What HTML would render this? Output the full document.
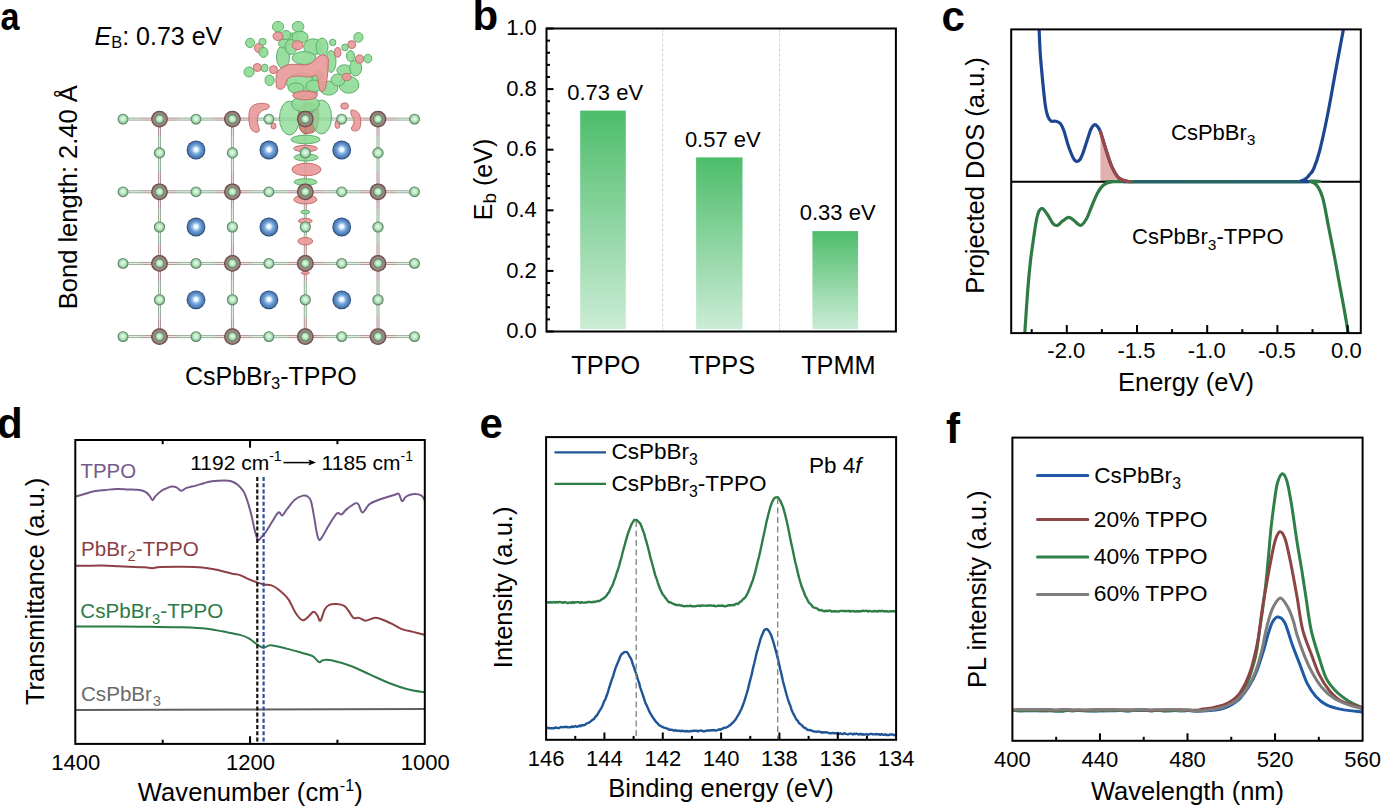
<!DOCTYPE html>
<html><head><meta charset="utf-8"><title>Figure</title>
<style>
html,body{margin:0;padding:0;background:#fff;}
body{width:1381px;height:806px;overflow:hidden;}
svg{display:block;font-family:"Liberation Sans", sans-serif;}
</style></head><body>
<svg width="1381" height="806" viewBox="0 0 1381 806">
<rect width="1381" height="806" fill="#fff"/>
<text transform="translate(0.6,30.4) scale(0.9,1)" font-size="38" font-weight="bold">a</text>
<text x="472.5" y="30" font-size="42" text-anchor="start" font-weight="bold" fill="#000"  >b</text>
<text x="941.5" y="31.3" font-size="42" text-anchor="start" font-weight="bold" fill="#000"  >c</text>
<text x="-3" y="437.8" font-size="42" text-anchor="start" font-weight="bold" fill="#000"  >d</text>
<text x="479.5" y="438.3" font-size="42" text-anchor="start" font-weight="bold" fill="#000"  >e</text>
<text x="946" y="443.4" font-size="42" text-anchor="start" font-weight="bold" fill="#000"  >f</text>
<line x1="662.7" y1="28.5" x2="662.7" y2="331.5" stroke="#cfcfcf" stroke-width="1" stroke-dasharray="3,2"/>
<line x1="779.6" y1="28.5" x2="779.6" y2="331.5" stroke="#cfcfcf" stroke-width="1" stroke-dasharray="3,2"/>
<defs><linearGradient id="gb" x1="0" y1="0" x2="0" y2="1"><stop offset="0" stop-color="#4dbd6b"/><stop offset="1" stop-color="#cbecd5"/></linearGradient></defs>
<rect x="580.2" y="110.6" width="45.6" height="218.6" fill="url(#gb)"/>
<rect x="696.1" y="157.4" width="46.4" height="171.8" fill="url(#gb)"/>
<rect x="812.4" y="231.1" width="45.7" height="98.1" fill="url(#gb)"/>
<rect x="546.5" y="28.5" width="349.4" height="303" fill="none" stroke="#000" stroke-width="2"/>
<line x1="546.5" y1="331.5" x2="553.5" y2="331.5" stroke="#000" stroke-width="2" />
<line x1="546.5" y1="319.38" x2="550" y2="319.38" stroke="#000" stroke-width="2" />
<line x1="546.5" y1="307.26" x2="550" y2="307.26" stroke="#000" stroke-width="2" />
<line x1="546.5" y1="295.14" x2="550" y2="295.14" stroke="#000" stroke-width="2" />
<line x1="546.5" y1="283.02" x2="550" y2="283.02" stroke="#000" stroke-width="2" />
<line x1="546.5" y1="270.9" x2="553.5" y2="270.9" stroke="#000" stroke-width="2" />
<line x1="546.5" y1="258.78" x2="550" y2="258.78" stroke="#000" stroke-width="2" />
<line x1="546.5" y1="246.66" x2="550" y2="246.66" stroke="#000" stroke-width="2" />
<line x1="546.5" y1="234.54" x2="550" y2="234.54" stroke="#000" stroke-width="2" />
<line x1="546.5" y1="222.42" x2="550" y2="222.42" stroke="#000" stroke-width="2" />
<line x1="546.5" y1="210.3" x2="553.5" y2="210.3" stroke="#000" stroke-width="2" />
<line x1="546.5" y1="198.18" x2="550" y2="198.18" stroke="#000" stroke-width="2" />
<line x1="546.5" y1="186.06" x2="550" y2="186.06" stroke="#000" stroke-width="2" />
<line x1="546.5" y1="173.94" x2="550" y2="173.94" stroke="#000" stroke-width="2" />
<line x1="546.5" y1="161.82" x2="550" y2="161.82" stroke="#000" stroke-width="2" />
<line x1="546.5" y1="149.7" x2="553.5" y2="149.7" stroke="#000" stroke-width="2" />
<line x1="546.5" y1="137.58" x2="550" y2="137.58" stroke="#000" stroke-width="2" />
<line x1="546.5" y1="125.46" x2="550" y2="125.46" stroke="#000" stroke-width="2" />
<line x1="546.5" y1="113.34" x2="550" y2="113.34" stroke="#000" stroke-width="2" />
<line x1="546.5" y1="101.22" x2="550" y2="101.22" stroke="#000" stroke-width="2" />
<line x1="546.5" y1="89.1" x2="553.5" y2="89.1" stroke="#000" stroke-width="2" />
<line x1="546.5" y1="76.98" x2="550" y2="76.98" stroke="#000" stroke-width="2" />
<line x1="546.5" y1="64.86" x2="550" y2="64.86" stroke="#000" stroke-width="2" />
<line x1="546.5" y1="52.74" x2="550" y2="52.74" stroke="#000" stroke-width="2" />
<line x1="546.5" y1="40.62" x2="550" y2="40.62" stroke="#000" stroke-width="2" />
<line x1="546.5" y1="28.5" x2="553.5" y2="28.5" stroke="#000" stroke-width="2" />
<text x="536.8" y="338.1" font-size="22" text-anchor="end" font-weight="normal" fill="#000"  >0.0</text>
<text x="536.8" y="277.5" font-size="22" text-anchor="end" font-weight="normal" fill="#000"  >0.2</text>
<text x="536.8" y="216.9" font-size="22" text-anchor="end" font-weight="normal" fill="#000"  >0.4</text>
<text x="536.8" y="156.3" font-size="22" text-anchor="end" font-weight="normal" fill="#000"  >0.6</text>
<text x="536.8" y="95.7" font-size="22" text-anchor="end" font-weight="normal" fill="#000"  >0.8</text>
<text x="536.8" y="35.1" font-size="22" text-anchor="end" font-weight="normal" fill="#000"  >1.0</text>
<text x="605.2" y="99.8" font-size="22" text-anchor="middle" font-weight="normal" fill="#000"  >0.73 eV</text>
<text x="722.8" y="146.5" font-size="22" text-anchor="middle" font-weight="normal" fill="#000"  >0.57 eV</text>
<text x="837.7" y="220.4" font-size="22" text-anchor="middle" font-weight="normal" fill="#000"  >0.33 eV</text>
<text x="605.8" y="373.7" font-size="25.3" text-anchor="middle" font-weight="normal" fill="#000"  >TPPO</text>
<text x="722.1" y="373.7" font-size="25.3" text-anchor="middle" font-weight="normal" fill="#000"  >TPPS</text>
<text x="838.4" y="373.7" font-size="25.3" text-anchor="middle" font-weight="normal" fill="#000"  >TPMM</text>
<text transform="translate(491.5,179.5) rotate(-90)" font-size="25" text-anchor="middle">E<tspan dy="4.5" font-size="19">b</tspan><tspan dy="-4.5"> (eV)</tspan></text>
<clipPath id="cc"><rect x="1011.2" y="29.4" width="349.6" height="303.7"/></clipPath>
<g clip-path="url(#cc)">
<path d="M1100.4,131.6C1101.22,134.25 1103.48,141.87 1105.3,147.5C1107.12,153.13 1109.15,160.43 1111.3,165.4C1113.45,170.37 1115.55,174.65 1118.2,177.3C1120.85,179.95 1124.9,180.57 1127.2,181.3C1129.5,182.03 1131.2,181.63 1132,181.7 L1132,181.7 L1100.4,181.7 Z" fill="#e3b0b0" stroke="none"/>
<line x1="1011.2" y1="181.7" x2="1360.8" y2="181.7" stroke="#000" stroke-width="2" />
<path d="M1024.6,336C1024.65,335.27 1024.38,339.17 1024.9,331.6C1025.42,324.03 1026.77,302.4 1027.7,290.6C1028.63,278.8 1029.57,269.18 1030.5,260.8C1031.43,252.42 1032.37,246.82 1033.3,240.3C1034.23,233.78 1035.17,226.52 1036.1,221.7C1037.03,216.88 1037.87,213.58 1038.9,211.4C1039.93,209.22 1040.9,208.13 1042.3,208.6C1043.7,209.07 1045.53,211.72 1047.3,214.2C1049.07,216.68 1051.25,221.63 1052.9,223.5C1054.55,225.37 1055.58,225.82 1057.2,225.4C1058.82,224.98 1060.7,222.33 1062.6,221C1064.5,219.67 1066.78,217.57 1068.6,217.4C1070.42,217.23 1071.52,218.67 1073.5,220C1075.48,221.33 1078.35,225.57 1080.5,225.4C1082.65,225.23 1084.58,222.07 1086.4,219C1088.22,215.93 1089.57,211.3 1091.4,207C1093.23,202.7 1095.42,196.83 1097.4,193.2C1099.38,189.57 1100.98,187.08 1103.3,185.2C1105.62,183.32 1107.68,182.48 1111.3,181.9C1114.92,181.32 1092.72,181.73 1125,181.7C1157.28,181.67 1274.17,181.75 1305,181.7C1335.83,181.65 1307.98,180.73 1310,181.4C1312.02,182.07 1314.95,182.83 1317.1,185.7C1319.25,188.57 1320.98,191.72 1322.9,198.6C1324.82,205.48 1326.7,217.48 1328.6,227C1330.5,236.52 1332.4,245.7 1334.3,255.7C1336.2,265.7 1338.33,277.95 1340,287C1341.67,296.05 1342.97,302.5 1344.3,310C1345.63,317.5 1347.35,327.67 1348,332C1348.65,336.33 1348.17,335.33 1348.2,336" stroke="#2f7a45" stroke-width="3.2" fill="none" stroke-linejoin="round" stroke-linecap="round" />
<path d="M1038.9,27C1038.93,27.42 1038.87,24.98 1039.1,29.5C1039.33,34.02 1039.7,45.45 1040.3,54.1C1040.9,62.75 1041.88,72.98 1042.7,81.4C1043.52,89.82 1044.4,98.92 1045.2,104.6C1046,110.28 1046.55,112.77 1047.5,115.5C1048.45,118.23 1049.57,120.05 1050.9,121C1052.23,121.95 1053.9,120.75 1055.5,121.2C1057.1,121.65 1059.08,122.07 1060.5,123.7C1061.92,125.33 1062.82,127.7 1064,131C1065.18,134.3 1066.43,139.83 1067.6,143.5C1068.77,147.17 1069.88,150.28 1071,153C1072.12,155.72 1073.28,158.4 1074.3,159.8C1075.32,161.2 1076.15,161.45 1077.1,161.4C1078.05,161.35 1079.02,160.9 1080,159.5C1080.98,158.1 1081.77,156.32 1083,153C1084.23,149.68 1086.07,143.6 1087.4,139.6C1088.73,135.6 1089.82,131.48 1091,129C1092.18,126.52 1093.42,125.12 1094.5,124.7C1095.58,124.28 1096.52,125.35 1097.5,126.5C1098.48,127.65 1099.1,128.1 1100.4,131.6C1101.7,135.1 1103.48,141.87 1105.3,147.5C1107.12,153.13 1109.15,160.43 1111.3,165.4C1113.45,170.37 1115.55,174.65 1118.2,177.3C1120.85,179.95 1123.57,180.57 1127.2,181.3C1130.83,182.03 1112.03,181.63 1140,181.7C1167.97,181.77 1268.33,181.77 1295,181.7C1321.67,181.63 1298.22,181.77 1300,181.3C1301.78,180.83 1304.1,180.03 1305.7,178.9C1307.3,177.77 1308.28,176.15 1309.6,174.5C1310.92,172.85 1311.93,172.92 1313.6,169C1315.27,165.08 1317.28,159.95 1319.6,151C1321.92,142.05 1324.85,128.53 1327.5,115.3C1330.15,102.07 1332.85,85.9 1335.5,71.6C1338.15,57.3 1342,36.93 1343.4,29.5C1344.8,22.07 1343.82,27.42 1343.9,27" stroke="#1d4690" stroke-width="3.2" fill="none" stroke-linejoin="round" stroke-linecap="round" />
<path d="M1100.4,131.6C1101.22,134.25 1103.48,141.87 1105.3,147.5C1107.12,153.13 1109.15,160.43 1111.3,165.4C1113.45,170.37 1115.55,174.65 1118.2,177.3C1120.85,179.95 1124.9,180.57 1127.2,181.3C1129.5,182.03 1131.2,181.63 1132,181.7" stroke="#9c4848" stroke-width="3.2" fill="none" stroke-linejoin="round" stroke-linecap="round" />
<line x1="1130" y1="181.7" x2="1300" y2="181.7" stroke="#2f7a45" stroke-width="3.2" stroke-opacity="0.55"/>
</g>
<rect x="1011.2" y="29.4" width="349.6" height="303.7" fill="none" stroke="#000" stroke-width="2"/>
<line x1="1031.7" y1="333.1" x2="1031.7" y2="329.1" stroke="#000" stroke-width="2" />
<line x1="1066.8" y1="333.1" x2="1066.8" y2="325.1" stroke="#000" stroke-width="2" />
<line x1="1101.9" y1="333.1" x2="1101.9" y2="329.1" stroke="#000" stroke-width="2" />
<line x1="1137" y1="333.1" x2="1137" y2="325.1" stroke="#000" stroke-width="2" />
<line x1="1172.1" y1="333.1" x2="1172.1" y2="329.1" stroke="#000" stroke-width="2" />
<line x1="1207.2" y1="333.1" x2="1207.2" y2="325.1" stroke="#000" stroke-width="2" />
<line x1="1242.3" y1="333.1" x2="1242.3" y2="329.1" stroke="#000" stroke-width="2" />
<line x1="1277.4" y1="333.1" x2="1277.4" y2="325.1" stroke="#000" stroke-width="2" />
<line x1="1312.5" y1="333.1" x2="1312.5" y2="329.1" stroke="#000" stroke-width="2" />
<line x1="1347.6" y1="333.1" x2="1347.6" y2="325.1" stroke="#000" stroke-width="2" />
<text x="1066.3" y="358.4" font-size="22" text-anchor="middle" font-weight="normal" fill="#000"  >-2.0</text>
<text x="1136.5" y="358.4" font-size="22" text-anchor="middle" font-weight="normal" fill="#000"  >-1.5</text>
<text x="1206.7" y="358.4" font-size="22" text-anchor="middle" font-weight="normal" fill="#000"  >-1.0</text>
<text x="1276.9" y="358.4" font-size="22" text-anchor="middle" font-weight="normal" fill="#000"  >-0.5</text>
<text x="1346.4" y="358.4" font-size="22" text-anchor="middle" font-weight="normal" fill="#000"  >0.0</text>
<text x="1186" y="391" font-size="25.5" text-anchor="middle" font-weight="normal" fill="#000"  >Energy (eV)</text>
<text transform="translate(983.5,175.5) rotate(-90)" font-size="25.5" text-anchor="middle" fill="#000">Projected DOS (a.u.)</text>
<text x="1171" y="139.6" font-size="22">CsPbBr<tspan dy="5.8" font-size="15.5">3</tspan></text>
<text x="1132" y="244.4" font-size="22">CsPbBr<tspan dy="5.8" font-size="15.5">3</tspan><tspan dy="-5.8">-TPPO</tspan></text>
<path d="M75.6,496.5C76.82,496.17 79.8,495.37 82.9,494.5C86,493.63 90.43,492.05 94.2,491.3C97.97,490.55 101.73,490.4 105.5,490C109.27,489.6 113.03,489 116.8,488.9C120.57,488.8 124.33,489.22 128.1,489.4C131.87,489.58 136.45,489.55 139.4,490C142.35,490.45 144.07,491.08 145.8,492.1C147.53,493.12 148.67,494.75 149.8,496.1C150.93,497.45 151.65,500.2 152.6,500.2C153.55,500.2 153.95,497.72 155.5,496.1C157.05,494.48 160.07,491.8 161.9,490.5C163.73,489.2 164.88,488.97 166.5,488.3C168.12,487.63 169.93,486.67 171.6,486.5C173.27,486.33 174.88,486.58 176.5,487.3C178.12,488.02 179.7,490.67 181.3,490.8C182.9,490.93 183.68,488.97 186.1,488.1C188.52,487.23 192.83,486.42 195.8,485.6C198.77,484.78 201.22,483.92 203.9,483.2C206.58,482.48 208.42,481.75 211.9,481.3C215.38,480.85 221.57,480.5 224.8,480.5C228.03,480.5 229.15,480.58 231.3,481.3C233.45,482.02 235.68,483.13 237.7,484.8C239.72,486.47 241.78,488.6 243.4,491.3C245.02,494 246.05,496.97 247.4,501C248.75,505.03 250.28,510.67 251.5,515.5C252.72,520.33 253.7,526.08 254.7,530C255.7,533.92 256.82,537.33 257.5,539C258.18,540.67 258.22,540.23 258.8,540C259.38,539.77 259.83,538.93 261,537.6C262.17,536.27 263.92,534.68 265.8,532C267.68,529.32 270.2,524.78 272.3,521.5C274.4,518.22 276.73,513.3 278.4,512.3C280.07,511.3 280.9,515.98 282.3,515.5C283.7,515.02 284.72,512.03 286.8,509.4C288.88,506.77 292.12,502 294.8,499.7C297.48,497.4 300.75,496.13 302.9,495.6C305.05,495.07 306.35,495.55 307.7,496.5C309.05,497.45 309.92,497.82 311,501.3C312.08,504.78 313.27,512.3 314.2,517.4C315.13,522.5 315.8,528.18 316.6,531.9C317.4,535.62 318.05,538.88 319,539.7C319.95,540.52 320.68,539.17 322.3,536.8C323.92,534.43 326.28,529.4 328.7,525.5C331.12,521.6 334.65,515.23 336.8,513.4C338.95,511.57 339.98,515.17 341.6,514.5C343.22,513.83 344.22,511.25 346.5,509.4C348.78,507.55 353.3,504.22 355.3,503.4C357.3,502.58 357.28,502.97 358.5,504.5C359.72,506.03 360.85,512.6 362.6,512.6C364.35,512.6 366.58,506.52 369,504.5C371.42,502.48 372.8,502.12 377.1,500.5C381.4,498.88 391.17,495.88 394.8,494.8C398.43,493.72 397.68,492.92 398.9,494C400.12,495.08 400.9,500.88 402.1,501.3C403.3,501.72 404.08,497.72 406.1,496.5C408.12,495.28 411.63,494.15 414.2,494C416.77,493.85 419.78,494.6 421.5,495.6C423.22,496.6 424,499.27 424.5,500" stroke="#74598a" stroke-width="2" fill="none" stroke-linejoin="round" stroke-linecap="round" />
<path d="M75.6,565.8C77.35,565.8 81.65,565.83 86.1,565.8C90.55,565.77 96.92,565.52 102.3,565.6C107.68,565.68 113.03,566.05 118.4,566.3C123.77,566.55 130.07,566.93 134.5,567.1C138.93,567.27 142.03,567.12 145,567.3C147.97,567.48 149.75,568.23 152.3,568.2C154.85,568.17 155.2,567.33 160.3,567.1C165.4,566.87 175.9,566.75 182.9,566.8C189.9,566.85 196.92,566.95 202.3,567.4C207.68,567.85 210.37,568.48 215.2,569.5C220.03,570.52 227.17,572.57 231.3,573.5C235.43,574.43 237.32,574.25 240,575.1C242.68,575.95 244.45,577.35 247.4,578.6C250.35,579.85 254.9,581.63 257.7,582.6C260.5,583.57 261.88,583.93 264.2,584.4C266.52,584.87 269.12,584.47 271.6,585.4C274.08,586.33 276.3,587.68 279.1,590C281.9,592.32 285.62,595.42 288.4,599.3C291.18,603.18 293.48,609.82 295.8,613.3C298.12,616.78 300.43,619.43 302.3,620.2C304.17,620.97 305.13,619.3 307,617.9C308.87,616.5 311.8,612.27 313.5,611.8C315.2,611.33 316.05,613.62 317.2,615.1C318.35,616.58 319.15,621.63 320.4,620.7C321.65,619.77 323.22,612.13 324.7,609.5C326.18,606.87 327.28,605.82 329.3,604.9C331.32,603.98 334.32,603.85 336.8,604C339.28,604.15 342.18,604.57 344.2,605.8C346.22,607.03 347.35,609.38 348.9,611.4C350.45,613.42 351.8,616.82 353.5,617.9C355.2,618.98 357.08,617.43 359.1,617.9C361.12,618.37 363.12,620.7 365.6,620.7C368.08,620.7 371.37,618.15 374,617.9C376.63,617.65 378.3,618.17 381.4,619.2C384.5,620.23 389.18,622.45 392.6,624.1C396.02,625.75 398.48,627.8 401.9,629.1C405.32,630.4 409.35,630.97 413.1,631.9C416.85,632.83 422.52,634.23 424.4,634.7" stroke="#8e3f45" stroke-width="2" fill="none" stroke-linejoin="round" stroke-linecap="round" />
<path d="M75.6,626.5C82.73,626.5 105.9,626.45 118.4,626.5C130.9,626.55 139.85,626.67 150.6,626.8C161.35,626.93 173.48,626.98 182.9,627.3C192.32,627.62 200.38,627.98 207.1,628.7C213.82,629.42 217.72,630.57 223.2,631.6C228.68,632.63 235.65,633.73 240,634.9C244.35,636.07 246.35,636.93 249.3,638.6C252.25,640.27 255.28,643.38 257.7,644.9C260.12,646.42 261.63,647.63 263.8,647.7C265.97,647.77 266.92,645.15 270.7,645.3C274.48,645.45 281.38,647.37 286.5,648.6C291.62,649.83 297.05,651.45 301.4,652.7C305.75,653.95 309.65,654.52 312.6,656.1C315.55,657.68 317.4,661.5 319.1,662.2C320.8,662.9 320.78,660.62 322.8,660.3C324.82,659.98 326.4,659.3 331.2,660.3C336,661.3 345.08,663.9 351.6,666.3C358.12,668.7 364.08,671.92 370.3,674.7C376.52,677.48 382.7,680.58 388.9,683C395.1,685.42 401.58,687.65 407.5,689.2C413.42,690.75 421.58,691.78 424.4,692.3" stroke="#2c7a48" stroke-width="2" fill="none" stroke-linejoin="round" stroke-linecap="round" />
<path d="M75.6,710.1 L250,709.6 L424.4,709" stroke="#606060" stroke-width="2" fill="none" stroke-linejoin="round" stroke-linecap="round" />
<line x1="257.3" y1="477" x2="257.3" y2="743.9" stroke="#111" stroke-width="2.2" stroke-dasharray="4,2.2"/>
<line x1="263.6" y1="477" x2="263.6" y2="743.9" stroke="#2b4f9a" stroke-width="2.2" stroke-dasharray="4,2.2"/>
<rect x="75.3" y="440" width="349.5" height="303.9" fill="none" stroke="#000" stroke-width="2"/>
<line x1="162.68" y1="743.9" x2="162.68" y2="739.7" stroke="#000" stroke-width="2" />
<line x1="162.68" y1="440" x2="162.68" y2="444.2" stroke="#000" stroke-width="2" />
<line x1="250.05" y1="743.9" x2="250.05" y2="736.2" stroke="#000" stroke-width="2" />
<line x1="250.05" y1="440" x2="250.05" y2="447.7" stroke="#000" stroke-width="2" />
<line x1="337.43" y1="743.9" x2="337.43" y2="739.7" stroke="#000" stroke-width="2" />
<line x1="337.43" y1="440" x2="337.43" y2="444.2" stroke="#000" stroke-width="2" />
<text x="75.8" y="769.5" font-size="22" text-anchor="middle" font-weight="normal" fill="#000"  >1400</text>
<text x="250.55" y="769.5" font-size="22" text-anchor="middle" font-weight="normal" fill="#000"  >1200</text>
<text x="425.3" y="769.5" font-size="22" text-anchor="middle" font-weight="normal" fill="#000"  >1000</text>
<text x="250.3" y="801" font-size="25.5" letter-spacing="0.12" text-anchor="middle">Wavenumber (cm<tspan dy="-10" font-size="16">-1</tspan><tspan dy="10">)</tspan></text>
<text transform="translate(44,591.4) rotate(-90)" font-size="25.5" text-anchor="middle" fill="#000">Transmittance (a.u.)</text>
<text x="80.5" y="478.3" font-size="20.4" text-anchor="start" font-weight="normal" fill="#74598a"  >TPPO</text>
<text x="81" y="555.8" font-size="20.6" fill="#8e3f45">PbBr<tspan dx="0.8" dy="5.5" font-size="14.8">2</tspan><tspan dy="-5.5">-TPPO</tspan></text>
<text x="80.3" y="618" font-size="20.6" fill="#2c7a48">CsPbBr<tspan dx="0.8" dy="5.5" font-size="14.8">3</tspan><tspan dy="-5.5">-TPPO</tspan></text>
<text x="81" y="700.9" font-size="20.6" fill="#6a6a6a">CsPbBr<tspan dx="0.8" dy="5.5" font-size="14.8">3</tspan></text>
<text x="190.2" y="469.8" font-size="21">1192 cm<tspan dy="-8.5" font-size="14">-1</tspan></text>
<text x="321.6" y="469.8" font-size="21">1185 cm<tspan dy="-8.5" font-size="14">-1</tspan></text>
<line x1="283.5" y1="462.6" x2="311" y2="462.6" stroke="#000" stroke-width="1.5" />
<path d="M316,462.6 L308.5,459.6 L309.8,462.6 L308.5,465.6 Z" fill="#000"/>
<path d="M546.6,602.32 L547.85,602.13 L549.1,602.68 L550.35,602.04 L551.6,602.55 L552.85,602.36 L554.1,602.02 L555.35,602.52 L556.6,602 L557.85,602.44 L559.1,602.04 L560.35,602.06 L561.6,602.43 L562.85,602.87 L564.1,602.1 L565.35,602.21 L566.6,602.65 L567.85,603 L569.1,602.6 L570.35,602.4 L571.6,603.04 L572.85,602.01 L574.1,602.91 L575.35,602.28 L576.6,602.12 L577.85,602.09 L579.1,602.3 L580.35,602.85 L581.6,602.15 L582.85,602.58 L584.1,602.63 L585.35,602.32 L586.6,602.49 L587.85,601.93 L589.1,601.88 L590.35,601.97 L591.6,602.41 L592.85,602.02 L594.1,601.74 L595.35,601.84 L596.6,601.44 L597.85,600.95 L599.1,601.08 L600.35,600.45 L601.6,599.31 L602.85,598.88 L604.1,597.87 L605.35,597.09 L606.6,595.55 L607.85,593.44 L609.1,592.3 L610.35,589.16 L611.6,586.99 L612.85,584.55 L614.1,580.74 L615.35,577.65 L616.6,573.38 L617.85,570.02 L619.1,565.82 L620.35,561.11 L621.6,556.81 L622.85,551.48 L624.1,547.2 L625.35,542.49 L626.6,538.06 L627.85,533.8 L629.1,530.47 L630.35,527.3 L631.6,524.04 L632.85,522.13 L634.1,520.02 L635.35,519.98 L636.6,519.92 L637.85,521.03 L639.1,522.28 L640.35,523.82 L641.6,526.69 L642.85,530.32 L644.1,533.42 L645.35,538.1 L646.6,542.29 L647.85,546.95 L649.1,551.71 L650.35,557.35 L651.6,561.45 L652.85,566.25 L654.1,570.89 L655.35,575.66 L656.6,578.74 L657.85,582.8 L659.1,586.23 L660.35,589.59 L661.6,592.18 L662.85,594.57 L664.1,595.96 L665.35,597.87 L666.6,599.3 L667.85,601.14 L669.1,602.27 L670.35,602.25 L671.6,602.99 L672.85,603.63 L674.1,604.1 L675.35,604.74 L676.6,605.15 L677.85,605.01 L679.1,604.9 L680.35,605.49 L681.6,605.54 L682.85,605.83 L684.1,606.32 L685.35,606.07 L686.6,605.91 L687.85,606.05 L689.1,606.13 L690.35,605.46 L691.6,606.39 L692.85,606.27 L694.1,606.38 L695.35,606.3 L696.6,605.85 L697.85,605.86 L699.1,605.54 L700.35,606.13 L701.6,605.5 L702.85,605.5 L704.1,605.66 L705.35,605.61 L706.6,605.81 L707.85,605.49 L709.1,605.43 L710.35,605.6 L711.6,605.55 L712.85,605.83 L714.1,605.46 L715.35,606.39 L716.6,606.1 L717.85,605.59 L719.1,605.7 L720.35,605.79 L721.6,605.79 L722.85,605.51 L724.1,606.28 L725.35,606.4 L726.6,605.77 L727.85,605.72 L729.1,605.18 L730.35,605.08 L731.6,605.18 L732.85,604.88 L734.1,605.23 L735.35,604.15 L736.6,603.56 L737.85,604.04 L739.1,602.91 L740.35,601.67 L741.6,601.12 L742.85,599.35 L744.1,598.48 L745.35,597.29 L746.6,595.2 L747.85,592.74 L749.1,589.65 L750.35,586.8 L751.6,583.24 L752.85,580.19 L754.1,575.83 L755.35,571.63 L756.6,566.32 L757.85,561.07 L759.1,556.3 L760.35,550.86 L761.6,544.94 L762.85,539.03 L764.1,533.21 L765.35,527.4 L766.6,521.33 L767.85,516.46 L769.1,511.51 L770.35,506.9 L771.6,503.27 L772.85,500.61 L774.1,498.41 L775.35,497.53 L776.6,497.31 L777.85,497.1 L779.1,498.85 L780.35,500.95 L781.6,503.74 L782.85,506.65 L784.1,510.7 L785.35,515.47 L786.6,520.67 L787.85,526.28 L789.1,532.59 L790.35,538.9 L791.6,544.9 L792.85,550.53 L794.1,556.62 L795.35,562.48 L796.6,567.14 L797.85,572.91 L799.1,577.97 L800.35,582.25 L801.6,586.24 L802.85,589.58 L804.1,592.51 L805.35,596.06 L806.6,598.09 L807.85,600.8 L809.1,602.87 L810.35,603.85 L811.6,605.22 L812.85,606.96 L814.1,607.66 L815.35,607.83 L816.6,608.41 L817.85,608.95 L819.1,610.2 L820.35,610.42 L821.6,609.95 L822.85,610.9 L824.1,611.23 L825.35,610.99 L826.6,610.75 L827.85,611.04 L829.1,610.63 L830.35,610.54 L831.6,611.63 L832.85,611.3 L834.1,611.18 L835.35,611.64 L836.6,611.1 L837.85,611.59 L839.1,611.54 L840.35,610.87 L841.6,610.92 L842.85,610.96 L844.1,610.91 L845.35,611.29 L846.6,610.93 L847.85,611.11 L849.1,610.79 L850.35,611.65 L851.6,611.04 L852.85,611.15 L854.1,611.29 L855.35,611.64 L856.6,611.11 L857.85,611.66 L859.1,611.2 L860.35,611.23 L861.6,611.22 L862.85,610.67 L864.1,611.13 L865.35,610.85 L866.6,610.65 L867.85,611.53 L869.1,610.84 L870.35,611.17 L871.6,611.45 L872.85,611.26 L874.1,611.01 L875.35,611.22 L876.6,611.26 L877.85,611.51 L879.1,610.77 L880.35,611.27 L881.6,610.92 L882.85,610.95 L884.1,611.5 L885.35,611.21 L886.6,611.27 L887.85,611.49 L889.1,611.65 L890.35,611.14 L891.6,611.32 L892.85,611.21 L894.1,611.21 L895.35,611.41" stroke="#2e7d46" stroke-width="2.4" fill="none" stroke-linejoin="round" stroke-linecap="round" />
<path d="M546.6,727.98 L547.85,728.03 L549.1,727.93 L550.35,728.41 L551.6,728.1 L552.85,728.25 L554.1,728.28 L555.35,727.48 L556.6,727.76 L557.85,728.14 L559.1,727.97 L560.35,727.14 L561.6,727.06 L562.85,727.35 L564.1,726.88 L565.35,726.99 L566.6,726.73 L567.85,727.31 L569.1,727.34 L570.35,727.37 L571.6,726.45 L572.85,726.96 L574.1,726.77 L575.35,726.06 L576.6,726.72 L577.85,726.63 L579.1,725.61 L580.35,726.18 L581.6,725.3 L582.85,725.09 L584.1,725.28 L585.35,724.68 L586.6,723.45 L587.85,723.17 L589.1,722.59 L590.35,721.62 L591.6,720.56 L592.85,719.65 L594.1,718.89 L595.35,716.75 L596.6,715.78 L597.85,713.9 L599.1,711.46 L600.35,709.61 L601.6,707.51 L602.85,704.74 L604.1,701.36 L605.35,699.27 L606.6,695.75 L607.85,692.45 L609.1,687.84 L610.35,684.24 L611.6,680.13 L612.85,677.05 L614.1,672.62 L615.35,668.69 L616.6,665.41 L617.85,662.6 L619.1,659.48 L620.35,656.26 L621.6,654.05 L622.85,653.38 L624.1,652.13 L625.35,652.07 L626.6,651.89 L627.85,653.02 L629.1,655.52 L630.35,657.6 L631.6,660.08 L632.85,664.31 L634.1,667.58 L635.35,671.6 L636.6,674.8 L637.85,679.71 L639.1,682.92 L640.35,687.83 L641.6,691.32 L642.85,694.99 L644.1,698.85 L645.35,702.68 L646.6,705.16 L647.85,707.98 L649.1,711.15 L650.35,713.32 L651.6,715.43 L652.85,717.51 L654.1,719.19 L655.35,720.95 L656.6,722.47 L657.85,723.69 L659.1,725.25 L660.35,725.65 L661.6,726.67 L662.85,726.99 L664.1,727.75 L665.35,727.88 L666.6,728.56 L667.85,728.65 L669.1,729.74 L670.35,729.8 L671.6,729.62 L672.85,730.12 L674.1,730.78 L675.35,730.01 L676.6,730.91 L677.85,730.58 L679.1,730.74 L680.35,731.18 L681.6,730.76 L682.85,730.94 L684.1,731.18 L685.35,731.55 L686.6,730.87 L687.85,731.44 L689.1,731.32 L690.35,731.26 L691.6,731.01 L692.85,730.95 L694.1,730.62 L695.35,730.7 L696.6,730.62 L697.85,731.34 L699.1,730.78 L700.35,730.65 L701.6,730.53 L702.85,731.32 L704.1,731.31 L705.35,731.04 L706.6,730.55 L707.85,730.44 L709.1,730.42 L710.35,730.52 L711.6,730.09 L712.85,730.3 L714.1,729.97 L715.35,730.6 L716.6,730.46 L717.85,729.81 L719.1,729.27 L720.35,729.82 L721.6,728.82 L722.85,728.54 L724.1,727.76 L725.35,727.73 L726.6,727.31 L727.85,726.71 L729.1,725.65 L730.35,725.13 L731.6,723.58 L732.85,722.7 L734.1,721.15 L735.35,719.93 L736.6,717.75 L737.85,715.69 L739.1,713.68 L740.35,711 L741.6,708.49 L742.85,705.21 L744.1,701.92 L745.35,697.97 L746.6,693.87 L747.85,689.6 L749.1,684.35 L750.35,679.34 L751.6,674.94 L752.85,668.77 L754.1,664.1 L755.35,658.72 L756.6,652.88 L757.85,648.78 L759.1,644.2 L760.35,639.7 L761.6,636.16 L762.85,633.27 L764.1,630.33 L765.35,629.41 L766.6,628.96 L767.85,629.82 L769.1,631.2 L770.35,633.49 L771.6,636.28 L772.85,640.33 L774.1,644.38 L775.35,649.11 L776.6,653.63 L777.85,658.65 L779.1,664.12 L780.35,669.74 L781.6,674.77 L782.85,680.75 L784.1,685.44 L785.35,690.29 L786.6,694.78 L787.85,699.05 L789.1,702.73 L790.35,705.77 L791.6,709.9 L792.85,712.79 L794.1,715.16 L795.35,717.54 L796.6,719.75 L797.85,720.92 L799.1,723.25 L800.35,724.1 L801.6,725.1 L802.85,726.34 L804.1,727.73 L805.35,727.91 L806.6,729.15 L807.85,729.96 L809.1,729.91 L810.35,730.19 L811.6,730.65 L812.85,731.18 L814.1,731.54 L815.35,731.61 L816.6,731.85 L817.85,731.41 L819.1,731.65 L820.35,731.92 L821.6,732.59 L822.85,732.24 L824.1,732.64 L825.35,732.14 L826.6,732.29 L827.85,732.61 L829.1,733.14 L830.35,733.25 L831.6,733.31 L832.85,732.96 L834.1,733.28 L835.35,733.29 L836.6,733.35 L837.85,733.03 L839.1,733.94 L840.35,733.23 L841.6,734.14 L842.85,734.14 L844.1,733.18 L845.35,733.71 L846.6,734.15 L847.85,734.35 L849.1,733.82 L850.35,733.66 L851.6,733.63 L852.85,734.48 L854.1,733.7 L855.35,734.14 L856.6,733.69 L857.85,734.14 L859.1,734.64 L860.35,733.77 L861.6,734.55 L862.85,734.23 L864.1,734.68 L865.35,734.5 L866.6,734 L867.85,734.76 L869.1,734.33 L870.35,733.84 L871.6,733.84 L872.85,734.39 L874.1,734.37 L875.35,734.22 L876.6,734.06 L877.85,734.3 L879.1,734.29 L880.35,734.88 L881.6,733.97 L882.85,734.81 L884.1,734.92 L885.35,734.15 L886.6,735.05 L887.85,734.83 L889.1,735.05 L890.35,734.39 L891.6,734.49 L892.85,734.53 L894.1,735.2 L895.35,734.76" stroke="#1f5596" stroke-width="2.4" fill="none" stroke-linejoin="round" stroke-linecap="round" />
<line x1="636.2" y1="521" x2="636.2" y2="739.8" stroke="#808080" stroke-width="1.3" stroke-dasharray="6,3.5"/>
<line x1="777.7" y1="498" x2="777.7" y2="739.8" stroke="#808080" stroke-width="1.3" stroke-dasharray="6,3.5"/>
<rect x="546.1" y="437.1" width="350" height="302.7" fill="none" stroke="#000" stroke-width="2"/>
<line x1="575.27" y1="739.8" x2="575.27" y2="735.9" stroke="#000" stroke-width="2" />
<line x1="604.43" y1="739.8" x2="604.43" y2="732.5" stroke="#000" stroke-width="2" />
<line x1="633.6" y1="739.8" x2="633.6" y2="735.9" stroke="#000" stroke-width="2" />
<line x1="662.77" y1="739.8" x2="662.77" y2="732.5" stroke="#000" stroke-width="2" />
<line x1="691.93" y1="739.8" x2="691.93" y2="735.9" stroke="#000" stroke-width="2" />
<line x1="721.1" y1="739.8" x2="721.1" y2="732.5" stroke="#000" stroke-width="2" />
<line x1="750.27" y1="739.8" x2="750.27" y2="735.9" stroke="#000" stroke-width="2" />
<line x1="779.43" y1="739.8" x2="779.43" y2="732.5" stroke="#000" stroke-width="2" />
<line x1="808.6" y1="739.8" x2="808.6" y2="735.9" stroke="#000" stroke-width="2" />
<line x1="837.77" y1="739.8" x2="837.77" y2="732.5" stroke="#000" stroke-width="2" />
<line x1="866.93" y1="739.8" x2="866.93" y2="735.9" stroke="#000" stroke-width="2" />
<text x="546.1" y="765.6" font-size="22" text-anchor="middle" font-weight="normal" fill="#000"  >146</text>
<text x="604.43" y="765.6" font-size="22" text-anchor="middle" font-weight="normal" fill="#000"  >144</text>
<text x="662.77" y="765.6" font-size="22" text-anchor="middle" font-weight="normal" fill="#000"  >142</text>
<text x="721.1" y="765.6" font-size="22" text-anchor="middle" font-weight="normal" fill="#000"  >140</text>
<text x="779.43" y="765.6" font-size="22" text-anchor="middle" font-weight="normal" fill="#000"  >138</text>
<text x="837.77" y="765.6" font-size="22" text-anchor="middle" font-weight="normal" fill="#000"  >136</text>
<text x="896.1" y="765.6" font-size="22" text-anchor="middle" font-weight="normal" fill="#000"  >134</text>
<text x="721" y="797.2" font-size="25.5" text-anchor="middle" font-weight="normal" fill="#000"  >Binding energy (eV)</text>
<text transform="translate(511.5,587.4) rotate(-90)" font-size="25.5" text-anchor="middle" fill="#000">Intensity (a.u.)</text>
<line x1="554.5" y1="452.4" x2="606" y2="452.4" stroke="#1f5596" stroke-width="2.3" />
<line x1="554.5" y1="483.8" x2="606" y2="483.8" stroke="#2e7d46" stroke-width="2.3" />
<text x="611.5" y="459.1" font-size="22.5">CsPbBr<tspan dy="5.8" font-size="15.8">3</tspan></text>
<text x="611.5" y="491" font-size="22.5">CsPbBr<tspan dy="5.8" font-size="15.8">3</tspan><tspan dy="-5.8">-TPPO</tspan></text>
<text x="809" y="473.3" font-size="22.5">Pb 4<tspan font-style="italic">f</tspan></text>
<path d="M1013.4,710.55C1014.4,710.58 1017.4,710.72 1019.4,710.75C1021.4,710.78 1023.4,710.74 1025.4,710.72C1027.4,710.7 1029.4,710.66 1031.4,710.65C1033.4,710.64 1035.4,710.63 1037.4,710.66C1039.4,710.69 1041.4,710.82 1043.4,710.83C1045.4,710.83 1047.4,710.66 1049.4,710.69C1051.4,710.73 1053.4,710.97 1055.4,711.03C1057.4,711.08 1059.4,711.09 1061.4,711.02C1063.4,710.95 1065.4,710.66 1067.4,710.61C1069.4,710.56 1071.4,710.75 1073.4,710.74C1075.4,710.72 1077.4,710.48 1079.4,710.5C1081.4,710.51 1083.4,710.74 1085.4,710.82C1087.4,710.9 1089.4,710.95 1091.4,710.96C1093.4,710.97 1095.4,710.91 1097.4,710.88C1099.4,710.84 1101.4,710.79 1103.4,710.76C1105.4,710.73 1107.4,710.72 1109.4,710.71C1111.4,710.7 1113.4,710.75 1115.4,710.7C1117.4,710.65 1119.4,710.37 1121.4,710.41C1123.4,710.46 1125.4,710.96 1127.4,710.97C1129.4,710.98 1131.4,710.58 1133.4,710.48C1135.4,710.38 1137.4,710.39 1139.4,710.37C1141.4,710.35 1143.4,710.28 1145.4,710.36C1147.4,710.44 1149.4,710.83 1151.4,710.84C1153.4,710.84 1155.4,710.37 1157.4,710.37C1159.4,710.38 1161.4,710.8 1163.4,710.87C1165.4,710.94 1167.4,710.84 1169.4,710.78C1171.4,710.73 1173.4,710.51 1175.4,710.52C1177.4,710.53 1179.4,710.84 1181.4,710.85C1183.4,710.86 1184.97,710.52 1187.4,710.59C1189.83,710.67 1192.23,711.3 1196,711.3C1199.77,711.3 1206,710.95 1210,710.6C1214,710.25 1217,709.87 1220,709.2C1223,708.53 1225.5,707.73 1228,706.6C1230.5,705.47 1232.97,703.8 1235,702.4C1237.03,701 1237.85,700.88 1240.2,698.2C1242.55,695.52 1246.37,690.75 1249.1,686.3C1251.83,681.85 1254.12,677.7 1256.6,671.5C1259.08,665.3 1262.1,655.27 1264,649.1C1265.9,642.93 1266.58,639.02 1268,634.5C1269.42,629.98 1270.83,624.92 1272.5,622C1274.17,619.08 1275.95,616.87 1278,617C1280.05,617.13 1282.42,618.18 1284.8,622.8C1287.18,627.42 1289.82,637.83 1292.3,644.7C1294.78,651.57 1297.22,657.55 1299.7,664C1302.18,670.45 1304.47,677.93 1307.2,683.4C1309.93,688.87 1312.88,693.22 1316.1,696.8C1319.32,700.38 1322.28,702.8 1326.5,704.9C1330.72,707 1335.52,708.23 1341.4,709.4C1347.28,710.57 1358.4,711.48 1361.8,711.9" stroke="#1f5aa6" stroke-width="3" fill="none" stroke-linejoin="round" stroke-linecap="round" />
<path d="M1013.4,710.45C1014.4,710.48 1017.4,710.62 1019.4,710.65C1021.4,710.68 1023.4,710.64 1025.4,710.62C1027.4,710.6 1029.4,710.56 1031.4,710.55C1033.4,710.54 1035.4,710.53 1037.4,710.56C1039.4,710.59 1041.4,710.72 1043.4,710.73C1045.4,710.73 1047.4,710.56 1049.4,710.59C1051.4,710.63 1053.4,710.87 1055.4,710.93C1057.4,710.98 1059.4,710.99 1061.4,710.92C1063.4,710.85 1065.4,710.56 1067.4,710.51C1069.4,710.46 1071.4,710.65 1073.4,710.64C1075.4,710.62 1077.4,710.38 1079.4,710.4C1081.4,710.41 1083.4,710.64 1085.4,710.72C1087.4,710.8 1089.4,710.85 1091.4,710.86C1093.4,710.87 1095.4,710.81 1097.4,710.78C1099.4,710.74 1101.4,710.69 1103.4,710.66C1105.4,710.63 1107.4,710.62 1109.4,710.61C1111.4,710.6 1113.4,710.65 1115.4,710.6C1117.4,710.55 1119.4,710.27 1121.4,710.31C1123.4,710.36 1125.4,710.86 1127.4,710.87C1129.4,710.88 1131.4,710.48 1133.4,710.38C1135.4,710.28 1137.4,710.29 1139.4,710.27C1141.4,710.25 1143.4,710.18 1145.4,710.26C1147.4,710.34 1149.4,710.73 1151.4,710.74C1153.4,710.74 1155.4,710.27 1157.4,710.27C1159.4,710.28 1161.4,710.7 1163.4,710.77C1165.4,710.84 1167.4,710.74 1169.4,710.68C1171.4,710.63 1173.4,710.41 1175.4,710.42C1177.4,710.43 1179.4,710.74 1181.4,710.75C1183.4,710.76 1184.97,710.5 1187.4,710.49C1189.83,710.49 1193.07,710.8 1196,710.7C1198.93,710.6 1202,710.27 1205,709.9C1208,709.53 1211.17,709.05 1214,708.5C1216.83,707.95 1219.67,707.3 1222,706.6C1224.33,705.9 1226.17,705.13 1228,704.3C1229.83,703.47 1231.47,702.62 1233,701.6C1234.53,700.58 1235.87,699.47 1237.2,698.2C1238.53,696.93 1239.4,696.37 1241,694C1242.6,691.63 1245.03,687.92 1246.8,684C1248.57,680.08 1250.03,675.58 1251.6,670.5C1253.17,665.42 1254.87,660.27 1256.2,653.5C1257.53,646.73 1258.48,637.57 1259.6,629.9C1260.72,622.23 1261.83,615.45 1262.9,607.5C1263.97,599.55 1265.05,590.98 1266,582.2C1266.95,573.42 1267.75,563.93 1268.6,554.8C1269.45,545.67 1270.15,536.18 1271.1,527.4C1272.05,518.62 1273.25,509.47 1274.3,502.1C1275.35,494.73 1276.07,487.93 1277.4,483.2C1278.73,478.47 1280.72,474.05 1282.3,473.7C1283.88,473.35 1285.43,476.37 1286.9,481.1C1288.37,485.83 1289.87,495.08 1291.1,502.1C1292.33,509.12 1293.25,516.17 1294.3,523.2C1295.35,530.23 1296.17,536.57 1297.4,544.3C1298.63,552.03 1300.28,560.82 1301.7,569.6C1303.12,578.38 1304.33,586.95 1305.9,597C1307.47,607.05 1308.9,619.82 1311.1,629.9C1313.3,639.98 1316.53,649.33 1319.1,657.5C1321.67,665.67 1323.52,673.1 1326.5,678.9C1329.48,684.7 1333.27,688.58 1337,692.3C1340.73,696.02 1344.77,698.67 1348.9,701.2C1353.03,703.73 1359.65,706.45 1361.8,707.5" stroke="#2e8048" stroke-width="3" fill="none" stroke-linejoin="round" stroke-linecap="round" />
<path d="M1013.4,710.29C1014.4,710.19 1017.4,709.76 1019.4,709.66C1021.4,709.56 1023.4,709.65 1025.4,709.68C1027.4,709.7 1029.4,709.8 1031.4,709.83C1033.4,709.86 1035.4,709.84 1037.4,709.86C1039.4,709.87 1041.4,709.93 1043.4,709.93C1045.4,709.93 1047.4,709.81 1049.4,709.87C1051.4,709.93 1053.4,710.26 1055.4,710.26C1057.4,710.26 1059.4,709.96 1061.4,709.86C1063.4,709.76 1065.4,709.6 1067.4,709.67C1069.4,709.75 1071.4,710.23 1073.4,710.33C1075.4,710.42 1077.4,710.26 1079.4,710.26C1081.4,710.25 1083.4,710.35 1085.4,710.28C1087.4,710.22 1089.4,709.98 1091.4,709.88C1093.4,709.78 1095.4,709.65 1097.4,709.67C1099.4,709.69 1101.4,710 1103.4,710.01C1105.4,710.01 1107.4,709.74 1109.4,709.72C1111.4,709.7 1113.4,709.8 1115.4,709.86C1117.4,709.92 1119.4,710.07 1121.4,710.09C1123.4,710.11 1125.4,710.02 1127.4,709.99C1129.4,709.97 1131.4,709.97 1133.4,709.92C1135.4,709.87 1137.4,709.67 1139.4,709.69C1141.4,709.71 1143.4,709.93 1145.4,710.03C1147.4,710.13 1149.4,710.25 1151.4,710.3C1153.4,710.35 1155.4,710.4 1157.4,710.35C1159.4,710.29 1161.4,710.05 1163.4,709.96C1165.4,709.87 1167.4,709.85 1169.4,709.81C1171.4,709.77 1173.4,709.71 1175.4,709.72C1177.4,709.73 1179.4,709.78 1181.4,709.87C1183.4,709.95 1184.97,710.16 1187.4,710.22C1189.83,710.27 1193.43,710.39 1196,710.2C1198.57,710.01 1200.13,709.48 1202.8,709.1C1205.47,708.72 1209.15,708.42 1212,707.9C1214.85,707.38 1217.57,706.68 1219.9,706C1222.23,705.32 1224.1,704.63 1226,703.8C1227.9,702.97 1229.67,702.05 1231.3,701C1232.93,699.95 1234.37,698.83 1235.8,697.5C1237.23,696.17 1238.27,695.42 1239.9,693C1241.53,690.58 1243.8,686.78 1245.6,683C1247.4,679.22 1249.12,675.22 1250.7,670.3C1252.28,665.38 1253.8,659.08 1255.1,653.5C1256.4,647.92 1257.27,644.47 1258.5,636.8C1259.73,629.13 1261.1,616.6 1262.5,607.5C1263.9,598.4 1265.47,590.27 1266.9,582.2C1268.33,574.13 1269.7,566.12 1271.1,559.1C1272.5,552.08 1273.83,544.67 1275.3,540.1C1276.77,535.53 1278.32,532.05 1279.9,531.7C1281.48,531.35 1283.28,534.15 1284.8,538C1286.32,541.85 1287.6,548.48 1289,554.8C1290.4,561.12 1291.8,568.52 1293.2,575.9C1294.6,583.28 1295.82,590.1 1297.4,599.1C1298.98,608.1 1300.33,620.57 1302.7,629.9C1305.07,639.23 1308.87,647.68 1311.6,655.1C1314.33,662.52 1316.12,668.45 1319.1,674.4C1322.08,680.35 1325.78,686.33 1329.5,690.8C1333.22,695.27 1336.02,698.42 1341.4,701.2C1346.78,703.98 1358.4,706.45 1361.8,707.5" stroke="#8d4444" stroke-width="3" fill="none" stroke-linejoin="round" stroke-linecap="round" />
<path d="M1013.4,710.04C1014.4,709.94 1017.4,709.54 1019.4,709.46C1021.4,709.38 1023.4,709.52 1025.4,709.57C1027.4,709.61 1029.4,709.76 1031.4,709.75C1033.4,709.74 1035.4,709.53 1037.4,709.51C1039.4,709.49 1041.4,709.59 1043.4,709.61C1045.4,709.63 1047.4,709.55 1049.4,709.63C1051.4,709.71 1053.4,710.09 1055.4,710.09C1057.4,710.1 1059.4,709.75 1061.4,709.66C1063.4,709.57 1065.4,709.49 1067.4,709.54C1069.4,709.6 1071.4,709.96 1073.4,709.98C1075.4,710.01 1077.4,709.67 1079.4,709.69C1081.4,709.7 1083.4,710.04 1085.4,710.07C1087.4,710.11 1089.4,709.91 1091.4,709.92C1093.4,709.92 1095.4,710.19 1097.4,710.12C1099.4,710.06 1101.4,709.55 1103.4,709.53C1105.4,709.51 1107.4,709.96 1109.4,709.99C1111.4,710.02 1113.4,709.7 1115.4,709.7C1117.4,709.71 1119.4,709.98 1121.4,710.04C1123.4,710.1 1125.4,710.05 1127.4,710.05C1129.4,710.05 1131.4,710.12 1133.4,710.04C1135.4,709.96 1137.4,709.58 1139.4,709.55C1141.4,709.52 1143.4,709.78 1145.4,709.85C1147.4,709.92 1149.4,709.98 1151.4,709.95C1153.4,709.92 1155.4,709.68 1157.4,709.66C1159.4,709.64 1161.4,709.83 1163.4,709.83C1165.4,709.84 1167.4,709.72 1169.4,709.71C1171.4,709.69 1173.4,709.66 1175.4,709.74C1177.4,709.81 1179.4,710.13 1181.4,710.15C1183.4,710.16 1184.97,709.68 1187.4,709.82C1189.83,709.96 1192.48,710.95 1196,711C1199.52,711.05 1204.83,710.52 1208.5,710.1C1212.17,709.68 1215.15,709.13 1218,708.5C1220.85,707.87 1223.35,707.13 1225.6,706.3C1227.85,705.47 1229.6,704.55 1231.5,703.5C1233.4,702.45 1235.33,701.33 1237,700C1238.67,698.67 1240.07,697.12 1241.5,695.5C1242.93,693.88 1243.8,693.02 1245.6,690.3C1247.4,687.58 1250.25,683.47 1252.3,679.2C1254.35,674.93 1256.22,669.92 1257.9,664.7C1259.58,659.48 1261.08,653.48 1262.4,647.9C1263.72,642.32 1264.62,636.35 1265.8,631.2C1266.98,626.05 1268.22,621.12 1269.5,617C1270.78,612.88 1271.67,609.67 1273.5,606.5C1275.33,603.33 1278.08,597.82 1280.5,598C1282.92,598.18 1285.88,603.85 1288,607.6C1290.12,611.35 1291.73,616.07 1293.2,620.5C1294.67,624.93 1294.97,628.43 1296.8,634.2C1298.63,639.97 1301.73,648.88 1304.2,655.1C1306.67,661.32 1308.62,666.05 1311.6,671.5C1314.58,676.95 1318.37,683.35 1322.1,687.8C1325.83,692.25 1329.53,695.35 1334,698.2C1338.47,701.05 1344.27,703.15 1348.9,704.9C1353.53,706.65 1359.65,708.07 1361.8,708.7" stroke="#7d7d7d" stroke-width="3" fill="none" stroke-linejoin="round" stroke-linecap="round" />
<rect x="1012.4" y="437.6" width="350.2" height="303.2" fill="none" stroke="#000" stroke-width="2"/>
<line x1="1056.17" y1="740.8" x2="1056.17" y2="736.8" stroke="#000" stroke-width="2" />
<line x1="1099.95" y1="740.8" x2="1099.95" y2="733.3" stroke="#000" stroke-width="2" />
<line x1="1143.72" y1="740.8" x2="1143.72" y2="736.8" stroke="#000" stroke-width="2" />
<line x1="1187.5" y1="740.8" x2="1187.5" y2="733.3" stroke="#000" stroke-width="2" />
<line x1="1231.27" y1="740.8" x2="1231.27" y2="736.8" stroke="#000" stroke-width="2" />
<line x1="1275.05" y1="740.8" x2="1275.05" y2="733.3" stroke="#000" stroke-width="2" />
<line x1="1318.82" y1="740.8" x2="1318.82" y2="736.8" stroke="#000" stroke-width="2" />
<text x="1012.4" y="766.8" font-size="22" text-anchor="middle" font-weight="normal" fill="#000"  >400</text>
<text x="1099.95" y="766.8" font-size="22" text-anchor="middle" font-weight="normal" fill="#000"  >440</text>
<text x="1187.5" y="766.8" font-size="22" text-anchor="middle" font-weight="normal" fill="#000"  >480</text>
<text x="1275.05" y="766.8" font-size="22" text-anchor="middle" font-weight="normal" fill="#000"  >520</text>
<text x="1362.6" y="766.8" font-size="22" text-anchor="middle" font-weight="normal" fill="#000"  >560</text>
<text x="1187.5" y="799.6" font-size="25.5" text-anchor="middle" font-weight="normal" fill="#000"  >Wavelength (nm)</text>
<text transform="translate(985.5,589.2) rotate(-90)" font-size="25.5" text-anchor="middle" fill="#000">PL intensity (a.u.)</text>
<line x1="1037.5" y1="475.6" x2="1087.8" y2="475.6" stroke="#1f5aa6" stroke-width="3" stroke-linecap="round"/>
<line x1="1037.5" y1="519.6" x2="1087.8" y2="519.6" stroke="#8d4444" stroke-width="3" stroke-linecap="round"/>
<line x1="1037.5" y1="556.9" x2="1087.8" y2="556.9" stroke="#2e8048" stroke-width="3" stroke-linecap="round"/>
<line x1="1037.5" y1="594.5" x2="1087.8" y2="594.5" stroke="#7d7d7d" stroke-width="3" stroke-linecap="round"/>
<text x="1094.3" y="483.3" font-size="22.6">CsPbBr<tspan dy="5.8" font-size="15.8">3</tspan></text>
<text x="1093.8" y="527.2" font-size="22.8" text-anchor="start" font-weight="normal" fill="#000"  >20% TPPO</text>
<text x="1093.8" y="564" font-size="22.8" text-anchor="start" font-weight="normal" fill="#000"  >40% TPPO</text>
<text x="1093.8" y="601.1" font-size="22.8" text-anchor="start" font-weight="normal" fill="#000"  >60% TPPO</text>
<defs>
<radialGradient id="gBr" cx="0.5" cy="0.5" r="0.5" fx="0.5" fy="0.45">
 <stop offset="0" stop-color="#e6fbea"/><stop offset="0.42" stop-color="#c2edca"/>
 <stop offset="0.7" stop-color="#9dd0a7"/><stop offset="0.85" stop-color="#6b9b74"/><stop offset="1" stop-color="#476b50"/></radialGradient>
<radialGradient id="gPb" cx="0.5" cy="0.5" r="0.5">
 <stop offset="0" stop-color="#bba8a4"/><stop offset="0.72" stop-color="#a08884"/><stop offset="0.87" stop-color="#7a5f59"/><stop offset="1" stop-color="#513833"/></radialGradient>
<radialGradient id="gCs" cx="0.5" cy="0.5" r="0.5" fx="0.5" fy="0.47">
 <stop offset="0" stop-color="#ffffff"/><stop offset="0.22" stop-color="#e4f4ff"/><stop offset="0.4" stop-color="#8db8e6"/>
 <stop offset="0.65" stop-color="#5f8ec8"/><stop offset="0.84" stop-color="#4c7bb3"/><stop offset="0.93" stop-color="#2f5284"/><stop offset="1" stop-color="#233f69"/></radialGradient>
</defs>
<line x1="123" y1="119.1" x2="141.25" y2="119.1" stroke="#93ad98" stroke-width="3" />
<line x1="123" y1="119.1" x2="141.25" y2="119.1" stroke="#e6f2e8" stroke-width="1.1" />
<line x1="141.25" y1="119.1" x2="159.5" y2="119.1" stroke="#ad8f8f" stroke-width="3" />
<line x1="141.25" y1="119.1" x2="159.5" y2="119.1" stroke="#f2e6e6" stroke-width="1.1" />
<line x1="159.5" y1="119.1" x2="177.75" y2="119.1" stroke="#ad8f8f" stroke-width="3" />
<line x1="159.5" y1="119.1" x2="177.75" y2="119.1" stroke="#f2e6e6" stroke-width="1.1" />
<line x1="177.75" y1="119.1" x2="196" y2="119.1" stroke="#93ad98" stroke-width="3" />
<line x1="177.75" y1="119.1" x2="196" y2="119.1" stroke="#e6f2e8" stroke-width="1.1" />
<line x1="196" y1="119.1" x2="214.2" y2="119.1" stroke="#93ad98" stroke-width="3" />
<line x1="196" y1="119.1" x2="214.2" y2="119.1" stroke="#e6f2e8" stroke-width="1.1" />
<line x1="214.2" y1="119.1" x2="232.4" y2="119.1" stroke="#ad8f8f" stroke-width="3" />
<line x1="214.2" y1="119.1" x2="232.4" y2="119.1" stroke="#f2e6e6" stroke-width="1.1" />
<line x1="232.4" y1="119.1" x2="250.65" y2="119.1" stroke="#ad8f8f" stroke-width="3" />
<line x1="232.4" y1="119.1" x2="250.65" y2="119.1" stroke="#f2e6e6" stroke-width="1.1" />
<line x1="250.65" y1="119.1" x2="268.9" y2="119.1" stroke="#93ad98" stroke-width="3" />
<line x1="250.65" y1="119.1" x2="268.9" y2="119.1" stroke="#e6f2e8" stroke-width="1.1" />
<line x1="268.9" y1="119.1" x2="287.1" y2="119.1" stroke="#93ad98" stroke-width="3" />
<line x1="268.9" y1="119.1" x2="287.1" y2="119.1" stroke="#e6f2e8" stroke-width="1.1" />
<line x1="287.1" y1="119.1" x2="305.3" y2="119.1" stroke="#ad8f8f" stroke-width="3" />
<line x1="287.1" y1="119.1" x2="305.3" y2="119.1" stroke="#f2e6e6" stroke-width="1.1" />
<line x1="305.3" y1="119.1" x2="323.5" y2="119.1" stroke="#ad8f8f" stroke-width="3" />
<line x1="305.3" y1="119.1" x2="323.5" y2="119.1" stroke="#f2e6e6" stroke-width="1.1" />
<line x1="323.5" y1="119.1" x2="341.7" y2="119.1" stroke="#93ad98" stroke-width="3" />
<line x1="323.5" y1="119.1" x2="341.7" y2="119.1" stroke="#e6f2e8" stroke-width="1.1" />
<line x1="341.7" y1="119.1" x2="359.85" y2="119.1" stroke="#93ad98" stroke-width="3" />
<line x1="341.7" y1="119.1" x2="359.85" y2="119.1" stroke="#e6f2e8" stroke-width="1.1" />
<line x1="359.85" y1="119.1" x2="378" y2="119.1" stroke="#ad8f8f" stroke-width="3" />
<line x1="359.85" y1="119.1" x2="378" y2="119.1" stroke="#f2e6e6" stroke-width="1.1" />
<line x1="378" y1="119.1" x2="396.25" y2="119.1" stroke="#ad8f8f" stroke-width="3" />
<line x1="378" y1="119.1" x2="396.25" y2="119.1" stroke="#f2e6e6" stroke-width="1.1" />
<line x1="396.25" y1="119.1" x2="414.5" y2="119.1" stroke="#93ad98" stroke-width="3" />
<line x1="396.25" y1="119.1" x2="414.5" y2="119.1" stroke="#e6f2e8" stroke-width="1.1" />
<line x1="123" y1="191.8" x2="141.25" y2="191.8" stroke="#93ad98" stroke-width="3" />
<line x1="123" y1="191.8" x2="141.25" y2="191.8" stroke="#e6f2e8" stroke-width="1.1" />
<line x1="141.25" y1="191.8" x2="159.5" y2="191.8" stroke="#ad8f8f" stroke-width="3" />
<line x1="141.25" y1="191.8" x2="159.5" y2="191.8" stroke="#f2e6e6" stroke-width="1.1" />
<line x1="159.5" y1="191.8" x2="177.75" y2="191.8" stroke="#ad8f8f" stroke-width="3" />
<line x1="159.5" y1="191.8" x2="177.75" y2="191.8" stroke="#f2e6e6" stroke-width="1.1" />
<line x1="177.75" y1="191.8" x2="196" y2="191.8" stroke="#93ad98" stroke-width="3" />
<line x1="177.75" y1="191.8" x2="196" y2="191.8" stroke="#e6f2e8" stroke-width="1.1" />
<line x1="196" y1="191.8" x2="214.2" y2="191.8" stroke="#93ad98" stroke-width="3" />
<line x1="196" y1="191.8" x2="214.2" y2="191.8" stroke="#e6f2e8" stroke-width="1.1" />
<line x1="214.2" y1="191.8" x2="232.4" y2="191.8" stroke="#ad8f8f" stroke-width="3" />
<line x1="214.2" y1="191.8" x2="232.4" y2="191.8" stroke="#f2e6e6" stroke-width="1.1" />
<line x1="232.4" y1="191.8" x2="250.65" y2="191.8" stroke="#ad8f8f" stroke-width="3" />
<line x1="232.4" y1="191.8" x2="250.65" y2="191.8" stroke="#f2e6e6" stroke-width="1.1" />
<line x1="250.65" y1="191.8" x2="268.9" y2="191.8" stroke="#93ad98" stroke-width="3" />
<line x1="250.65" y1="191.8" x2="268.9" y2="191.8" stroke="#e6f2e8" stroke-width="1.1" />
<line x1="268.9" y1="191.8" x2="287.1" y2="191.8" stroke="#93ad98" stroke-width="3" />
<line x1="268.9" y1="191.8" x2="287.1" y2="191.8" stroke="#e6f2e8" stroke-width="1.1" />
<line x1="287.1" y1="191.8" x2="305.3" y2="191.8" stroke="#ad8f8f" stroke-width="3" />
<line x1="287.1" y1="191.8" x2="305.3" y2="191.8" stroke="#f2e6e6" stroke-width="1.1" />
<line x1="305.3" y1="191.8" x2="323.5" y2="191.8" stroke="#ad8f8f" stroke-width="3" />
<line x1="305.3" y1="191.8" x2="323.5" y2="191.8" stroke="#f2e6e6" stroke-width="1.1" />
<line x1="323.5" y1="191.8" x2="341.7" y2="191.8" stroke="#93ad98" stroke-width="3" />
<line x1="323.5" y1="191.8" x2="341.7" y2="191.8" stroke="#e6f2e8" stroke-width="1.1" />
<line x1="341.7" y1="191.8" x2="359.85" y2="191.8" stroke="#93ad98" stroke-width="3" />
<line x1="341.7" y1="191.8" x2="359.85" y2="191.8" stroke="#e6f2e8" stroke-width="1.1" />
<line x1="359.85" y1="191.8" x2="378" y2="191.8" stroke="#ad8f8f" stroke-width="3" />
<line x1="359.85" y1="191.8" x2="378" y2="191.8" stroke="#f2e6e6" stroke-width="1.1" />
<line x1="378" y1="191.8" x2="396.25" y2="191.8" stroke="#ad8f8f" stroke-width="3" />
<line x1="378" y1="191.8" x2="396.25" y2="191.8" stroke="#f2e6e6" stroke-width="1.1" />
<line x1="396.25" y1="191.8" x2="414.5" y2="191.8" stroke="#93ad98" stroke-width="3" />
<line x1="396.25" y1="191.8" x2="414.5" y2="191.8" stroke="#e6f2e8" stroke-width="1.1" />
<line x1="123" y1="263.4" x2="141.25" y2="263.4" stroke="#93ad98" stroke-width="3" />
<line x1="123" y1="263.4" x2="141.25" y2="263.4" stroke="#e6f2e8" stroke-width="1.1" />
<line x1="141.25" y1="263.4" x2="159.5" y2="263.4" stroke="#ad8f8f" stroke-width="3" />
<line x1="141.25" y1="263.4" x2="159.5" y2="263.4" stroke="#f2e6e6" stroke-width="1.1" />
<line x1="159.5" y1="263.4" x2="177.75" y2="263.4" stroke="#ad8f8f" stroke-width="3" />
<line x1="159.5" y1="263.4" x2="177.75" y2="263.4" stroke="#f2e6e6" stroke-width="1.1" />
<line x1="177.75" y1="263.4" x2="196" y2="263.4" stroke="#93ad98" stroke-width="3" />
<line x1="177.75" y1="263.4" x2="196" y2="263.4" stroke="#e6f2e8" stroke-width="1.1" />
<line x1="196" y1="263.4" x2="214.2" y2="263.4" stroke="#93ad98" stroke-width="3" />
<line x1="196" y1="263.4" x2="214.2" y2="263.4" stroke="#e6f2e8" stroke-width="1.1" />
<line x1="214.2" y1="263.4" x2="232.4" y2="263.4" stroke="#ad8f8f" stroke-width="3" />
<line x1="214.2" y1="263.4" x2="232.4" y2="263.4" stroke="#f2e6e6" stroke-width="1.1" />
<line x1="232.4" y1="263.4" x2="250.65" y2="263.4" stroke="#ad8f8f" stroke-width="3" />
<line x1="232.4" y1="263.4" x2="250.65" y2="263.4" stroke="#f2e6e6" stroke-width="1.1" />
<line x1="250.65" y1="263.4" x2="268.9" y2="263.4" stroke="#93ad98" stroke-width="3" />
<line x1="250.65" y1="263.4" x2="268.9" y2="263.4" stroke="#e6f2e8" stroke-width="1.1" />
<line x1="268.9" y1="263.4" x2="287.1" y2="263.4" stroke="#93ad98" stroke-width="3" />
<line x1="268.9" y1="263.4" x2="287.1" y2="263.4" stroke="#e6f2e8" stroke-width="1.1" />
<line x1="287.1" y1="263.4" x2="305.3" y2="263.4" stroke="#ad8f8f" stroke-width="3" />
<line x1="287.1" y1="263.4" x2="305.3" y2="263.4" stroke="#f2e6e6" stroke-width="1.1" />
<line x1="305.3" y1="263.4" x2="323.5" y2="263.4" stroke="#ad8f8f" stroke-width="3" />
<line x1="305.3" y1="263.4" x2="323.5" y2="263.4" stroke="#f2e6e6" stroke-width="1.1" />
<line x1="323.5" y1="263.4" x2="341.7" y2="263.4" stroke="#93ad98" stroke-width="3" />
<line x1="323.5" y1="263.4" x2="341.7" y2="263.4" stroke="#e6f2e8" stroke-width="1.1" />
<line x1="341.7" y1="263.4" x2="359.85" y2="263.4" stroke="#93ad98" stroke-width="3" />
<line x1="341.7" y1="263.4" x2="359.85" y2="263.4" stroke="#e6f2e8" stroke-width="1.1" />
<line x1="359.85" y1="263.4" x2="378" y2="263.4" stroke="#ad8f8f" stroke-width="3" />
<line x1="359.85" y1="263.4" x2="378" y2="263.4" stroke="#f2e6e6" stroke-width="1.1" />
<line x1="378" y1="263.4" x2="396.25" y2="263.4" stroke="#ad8f8f" stroke-width="3" />
<line x1="378" y1="263.4" x2="396.25" y2="263.4" stroke="#f2e6e6" stroke-width="1.1" />
<line x1="396.25" y1="263.4" x2="414.5" y2="263.4" stroke="#93ad98" stroke-width="3" />
<line x1="396.25" y1="263.4" x2="414.5" y2="263.4" stroke="#e6f2e8" stroke-width="1.1" />
<line x1="123" y1="336.6" x2="141.25" y2="336.6" stroke="#93ad98" stroke-width="3" />
<line x1="123" y1="336.6" x2="141.25" y2="336.6" stroke="#e6f2e8" stroke-width="1.1" />
<line x1="141.25" y1="336.6" x2="159.5" y2="336.6" stroke="#ad8f8f" stroke-width="3" />
<line x1="141.25" y1="336.6" x2="159.5" y2="336.6" stroke="#f2e6e6" stroke-width="1.1" />
<line x1="159.5" y1="336.6" x2="177.75" y2="336.6" stroke="#ad8f8f" stroke-width="3" />
<line x1="159.5" y1="336.6" x2="177.75" y2="336.6" stroke="#f2e6e6" stroke-width="1.1" />
<line x1="177.75" y1="336.6" x2="196" y2="336.6" stroke="#93ad98" stroke-width="3" />
<line x1="177.75" y1="336.6" x2="196" y2="336.6" stroke="#e6f2e8" stroke-width="1.1" />
<line x1="196" y1="336.6" x2="214.2" y2="336.6" stroke="#93ad98" stroke-width="3" />
<line x1="196" y1="336.6" x2="214.2" y2="336.6" stroke="#e6f2e8" stroke-width="1.1" />
<line x1="214.2" y1="336.6" x2="232.4" y2="336.6" stroke="#ad8f8f" stroke-width="3" />
<line x1="214.2" y1="336.6" x2="232.4" y2="336.6" stroke="#f2e6e6" stroke-width="1.1" />
<line x1="232.4" y1="336.6" x2="250.65" y2="336.6" stroke="#ad8f8f" stroke-width="3" />
<line x1="232.4" y1="336.6" x2="250.65" y2="336.6" stroke="#f2e6e6" stroke-width="1.1" />
<line x1="250.65" y1="336.6" x2="268.9" y2="336.6" stroke="#93ad98" stroke-width="3" />
<line x1="250.65" y1="336.6" x2="268.9" y2="336.6" stroke="#e6f2e8" stroke-width="1.1" />
<line x1="268.9" y1="336.6" x2="287.1" y2="336.6" stroke="#93ad98" stroke-width="3" />
<line x1="268.9" y1="336.6" x2="287.1" y2="336.6" stroke="#e6f2e8" stroke-width="1.1" />
<line x1="287.1" y1="336.6" x2="305.3" y2="336.6" stroke="#ad8f8f" stroke-width="3" />
<line x1="287.1" y1="336.6" x2="305.3" y2="336.6" stroke="#f2e6e6" stroke-width="1.1" />
<line x1="305.3" y1="336.6" x2="323.5" y2="336.6" stroke="#ad8f8f" stroke-width="3" />
<line x1="305.3" y1="336.6" x2="323.5" y2="336.6" stroke="#f2e6e6" stroke-width="1.1" />
<line x1="323.5" y1="336.6" x2="341.7" y2="336.6" stroke="#93ad98" stroke-width="3" />
<line x1="323.5" y1="336.6" x2="341.7" y2="336.6" stroke="#e6f2e8" stroke-width="1.1" />
<line x1="341.7" y1="336.6" x2="359.85" y2="336.6" stroke="#93ad98" stroke-width="3" />
<line x1="341.7" y1="336.6" x2="359.85" y2="336.6" stroke="#e6f2e8" stroke-width="1.1" />
<line x1="359.85" y1="336.6" x2="378" y2="336.6" stroke="#ad8f8f" stroke-width="3" />
<line x1="359.85" y1="336.6" x2="378" y2="336.6" stroke="#f2e6e6" stroke-width="1.1" />
<line x1="378" y1="336.6" x2="396.25" y2="336.6" stroke="#ad8f8f" stroke-width="3" />
<line x1="378" y1="336.6" x2="396.25" y2="336.6" stroke="#f2e6e6" stroke-width="1.1" />
<line x1="396.25" y1="336.6" x2="414.5" y2="336.6" stroke="#93ad98" stroke-width="3" />
<line x1="396.25" y1="336.6" x2="414.5" y2="336.6" stroke="#e6f2e8" stroke-width="1.1" />
<line x1="159.5" y1="119.1" x2="159.5" y2="136" stroke="#ad8f8f" stroke-width="3" />
<line x1="159.5" y1="119.1" x2="159.5" y2="136" stroke="#f2e6e6" stroke-width="1.1" />
<line x1="159.5" y1="136" x2="159.5" y2="152.9" stroke="#93ad98" stroke-width="3" />
<line x1="159.5" y1="136" x2="159.5" y2="152.9" stroke="#e6f2e8" stroke-width="1.1" />
<line x1="159.5" y1="152.9" x2="159.5" y2="172.35" stroke="#93ad98" stroke-width="3" />
<line x1="159.5" y1="152.9" x2="159.5" y2="172.35" stroke="#e6f2e8" stroke-width="1.1" />
<line x1="159.5" y1="172.35" x2="159.5" y2="191.8" stroke="#ad8f8f" stroke-width="3" />
<line x1="159.5" y1="172.35" x2="159.5" y2="191.8" stroke="#f2e6e6" stroke-width="1.1" />
<line x1="159.5" y1="191.8" x2="159.5" y2="209.4" stroke="#ad8f8f" stroke-width="3" />
<line x1="159.5" y1="191.8" x2="159.5" y2="209.4" stroke="#f2e6e6" stroke-width="1.1" />
<line x1="159.5" y1="209.4" x2="159.5" y2="227" stroke="#93ad98" stroke-width="3" />
<line x1="159.5" y1="209.4" x2="159.5" y2="227" stroke="#e6f2e8" stroke-width="1.1" />
<line x1="159.5" y1="227" x2="159.5" y2="245.2" stroke="#93ad98" stroke-width="3" />
<line x1="159.5" y1="227" x2="159.5" y2="245.2" stroke="#e6f2e8" stroke-width="1.1" />
<line x1="159.5" y1="245.2" x2="159.5" y2="263.4" stroke="#ad8f8f" stroke-width="3" />
<line x1="159.5" y1="245.2" x2="159.5" y2="263.4" stroke="#f2e6e6" stroke-width="1.1" />
<line x1="159.5" y1="263.4" x2="159.5" y2="281.6" stroke="#ad8f8f" stroke-width="3" />
<line x1="159.5" y1="263.4" x2="159.5" y2="281.6" stroke="#f2e6e6" stroke-width="1.1" />
<line x1="159.5" y1="281.6" x2="159.5" y2="299.8" stroke="#93ad98" stroke-width="3" />
<line x1="159.5" y1="281.6" x2="159.5" y2="299.8" stroke="#e6f2e8" stroke-width="1.1" />
<line x1="159.5" y1="299.8" x2="159.5" y2="318.2" stroke="#93ad98" stroke-width="3" />
<line x1="159.5" y1="299.8" x2="159.5" y2="318.2" stroke="#e6f2e8" stroke-width="1.1" />
<line x1="159.5" y1="318.2" x2="159.5" y2="336.6" stroke="#ad8f8f" stroke-width="3" />
<line x1="159.5" y1="318.2" x2="159.5" y2="336.6" stroke="#f2e6e6" stroke-width="1.1" />
<line x1="232.4" y1="119.1" x2="232.4" y2="136" stroke="#ad8f8f" stroke-width="3" />
<line x1="232.4" y1="119.1" x2="232.4" y2="136" stroke="#f2e6e6" stroke-width="1.1" />
<line x1="232.4" y1="136" x2="232.4" y2="152.9" stroke="#93ad98" stroke-width="3" />
<line x1="232.4" y1="136" x2="232.4" y2="152.9" stroke="#e6f2e8" stroke-width="1.1" />
<line x1="232.4" y1="152.9" x2="232.4" y2="172.35" stroke="#93ad98" stroke-width="3" />
<line x1="232.4" y1="152.9" x2="232.4" y2="172.35" stroke="#e6f2e8" stroke-width="1.1" />
<line x1="232.4" y1="172.35" x2="232.4" y2="191.8" stroke="#ad8f8f" stroke-width="3" />
<line x1="232.4" y1="172.35" x2="232.4" y2="191.8" stroke="#f2e6e6" stroke-width="1.1" />
<line x1="232.4" y1="191.8" x2="232.4" y2="209.4" stroke="#ad8f8f" stroke-width="3" />
<line x1="232.4" y1="191.8" x2="232.4" y2="209.4" stroke="#f2e6e6" stroke-width="1.1" />
<line x1="232.4" y1="209.4" x2="232.4" y2="227" stroke="#93ad98" stroke-width="3" />
<line x1="232.4" y1="209.4" x2="232.4" y2="227" stroke="#e6f2e8" stroke-width="1.1" />
<line x1="232.4" y1="227" x2="232.4" y2="245.2" stroke="#93ad98" stroke-width="3" />
<line x1="232.4" y1="227" x2="232.4" y2="245.2" stroke="#e6f2e8" stroke-width="1.1" />
<line x1="232.4" y1="245.2" x2="232.4" y2="263.4" stroke="#ad8f8f" stroke-width="3" />
<line x1="232.4" y1="245.2" x2="232.4" y2="263.4" stroke="#f2e6e6" stroke-width="1.1" />
<line x1="232.4" y1="263.4" x2="232.4" y2="281.6" stroke="#ad8f8f" stroke-width="3" />
<line x1="232.4" y1="263.4" x2="232.4" y2="281.6" stroke="#f2e6e6" stroke-width="1.1" />
<line x1="232.4" y1="281.6" x2="232.4" y2="299.8" stroke="#93ad98" stroke-width="3" />
<line x1="232.4" y1="281.6" x2="232.4" y2="299.8" stroke="#e6f2e8" stroke-width="1.1" />
<line x1="232.4" y1="299.8" x2="232.4" y2="318.2" stroke="#93ad98" stroke-width="3" />
<line x1="232.4" y1="299.8" x2="232.4" y2="318.2" stroke="#e6f2e8" stroke-width="1.1" />
<line x1="232.4" y1="318.2" x2="232.4" y2="336.6" stroke="#ad8f8f" stroke-width="3" />
<line x1="232.4" y1="318.2" x2="232.4" y2="336.6" stroke="#f2e6e6" stroke-width="1.1" />
<line x1="305.3" y1="119.1" x2="305.3" y2="136" stroke="#ad8f8f" stroke-width="3" />
<line x1="305.3" y1="119.1" x2="305.3" y2="136" stroke="#f2e6e6" stroke-width="1.1" />
<line x1="305.3" y1="136" x2="305.3" y2="152.9" stroke="#93ad98" stroke-width="3" />
<line x1="305.3" y1="136" x2="305.3" y2="152.9" stroke="#e6f2e8" stroke-width="1.1" />
<line x1="305.3" y1="152.9" x2="305.3" y2="172.35" stroke="#93ad98" stroke-width="3" />
<line x1="305.3" y1="152.9" x2="305.3" y2="172.35" stroke="#e6f2e8" stroke-width="1.1" />
<line x1="305.3" y1="172.35" x2="305.3" y2="191.8" stroke="#ad8f8f" stroke-width="3" />
<line x1="305.3" y1="172.35" x2="305.3" y2="191.8" stroke="#f2e6e6" stroke-width="1.1" />
<line x1="305.3" y1="191.8" x2="305.3" y2="209.4" stroke="#ad8f8f" stroke-width="3" />
<line x1="305.3" y1="191.8" x2="305.3" y2="209.4" stroke="#f2e6e6" stroke-width="1.1" />
<line x1="305.3" y1="209.4" x2="305.3" y2="227" stroke="#93ad98" stroke-width="3" />
<line x1="305.3" y1="209.4" x2="305.3" y2="227" stroke="#e6f2e8" stroke-width="1.1" />
<line x1="305.3" y1="227" x2="305.3" y2="245.2" stroke="#93ad98" stroke-width="3" />
<line x1="305.3" y1="227" x2="305.3" y2="245.2" stroke="#e6f2e8" stroke-width="1.1" />
<line x1="305.3" y1="245.2" x2="305.3" y2="263.4" stroke="#ad8f8f" stroke-width="3" />
<line x1="305.3" y1="245.2" x2="305.3" y2="263.4" stroke="#f2e6e6" stroke-width="1.1" />
<line x1="305.3" y1="263.4" x2="305.3" y2="281.6" stroke="#ad8f8f" stroke-width="3" />
<line x1="305.3" y1="263.4" x2="305.3" y2="281.6" stroke="#f2e6e6" stroke-width="1.1" />
<line x1="305.3" y1="281.6" x2="305.3" y2="299.8" stroke="#93ad98" stroke-width="3" />
<line x1="305.3" y1="281.6" x2="305.3" y2="299.8" stroke="#e6f2e8" stroke-width="1.1" />
<line x1="305.3" y1="299.8" x2="305.3" y2="318.2" stroke="#93ad98" stroke-width="3" />
<line x1="305.3" y1="299.8" x2="305.3" y2="318.2" stroke="#e6f2e8" stroke-width="1.1" />
<line x1="305.3" y1="318.2" x2="305.3" y2="336.6" stroke="#ad8f8f" stroke-width="3" />
<line x1="305.3" y1="318.2" x2="305.3" y2="336.6" stroke="#f2e6e6" stroke-width="1.1" />
<line x1="378" y1="119.1" x2="378" y2="136" stroke="#ad8f8f" stroke-width="3" />
<line x1="378" y1="119.1" x2="378" y2="136" stroke="#f2e6e6" stroke-width="1.1" />
<line x1="378" y1="136" x2="378" y2="152.9" stroke="#93ad98" stroke-width="3" />
<line x1="378" y1="136" x2="378" y2="152.9" stroke="#e6f2e8" stroke-width="1.1" />
<line x1="378" y1="152.9" x2="378" y2="172.35" stroke="#93ad98" stroke-width="3" />
<line x1="378" y1="152.9" x2="378" y2="172.35" stroke="#e6f2e8" stroke-width="1.1" />
<line x1="378" y1="172.35" x2="378" y2="191.8" stroke="#ad8f8f" stroke-width="3" />
<line x1="378" y1="172.35" x2="378" y2="191.8" stroke="#f2e6e6" stroke-width="1.1" />
<line x1="378" y1="191.8" x2="378" y2="209.4" stroke="#ad8f8f" stroke-width="3" />
<line x1="378" y1="191.8" x2="378" y2="209.4" stroke="#f2e6e6" stroke-width="1.1" />
<line x1="378" y1="209.4" x2="378" y2="227" stroke="#93ad98" stroke-width="3" />
<line x1="378" y1="209.4" x2="378" y2="227" stroke="#e6f2e8" stroke-width="1.1" />
<line x1="378" y1="227" x2="378" y2="245.2" stroke="#93ad98" stroke-width="3" />
<line x1="378" y1="227" x2="378" y2="245.2" stroke="#e6f2e8" stroke-width="1.1" />
<line x1="378" y1="245.2" x2="378" y2="263.4" stroke="#ad8f8f" stroke-width="3" />
<line x1="378" y1="245.2" x2="378" y2="263.4" stroke="#f2e6e6" stroke-width="1.1" />
<line x1="378" y1="263.4" x2="378" y2="281.6" stroke="#ad8f8f" stroke-width="3" />
<line x1="378" y1="263.4" x2="378" y2="281.6" stroke="#f2e6e6" stroke-width="1.1" />
<line x1="378" y1="281.6" x2="378" y2="299.8" stroke="#93ad98" stroke-width="3" />
<line x1="378" y1="281.6" x2="378" y2="299.8" stroke="#e6f2e8" stroke-width="1.1" />
<line x1="378" y1="299.8" x2="378" y2="318.2" stroke="#93ad98" stroke-width="3" />
<line x1="378" y1="299.8" x2="378" y2="318.2" stroke="#e6f2e8" stroke-width="1.1" />
<line x1="378" y1="318.2" x2="378" y2="336.6" stroke="#ad8f8f" stroke-width="3" />
<line x1="378" y1="318.2" x2="378" y2="336.6" stroke="#f2e6e6" stroke-width="1.1" />
<path d="M249,119.3 C248.5,112 250,107.5 253,105.5 C257,102.8 264,103 268.3,104.4 C270,106 269.5,108.5 266,109.3 C261,110.3 258,113.5 257.3,119.3 C257,124 259.5,128 259.4,130.5 C258.5,133.2 254,132.5 251.5,129.8 C249.6,127 249.2,123 249,119.3 Z" fill="#e99a9a" stroke="#c56d6d" stroke-width="1" fill-opacity="0.92"/>
<path d="M351,110.3 C354,109.5 357.5,111 359.5,114.5 C361.2,118.5 361.3,125 359.5,128.8 C357.8,131.5 353.5,131.5 351.5,129.7 C350.5,127.5 353.8,125 354,122.2 C354.2,118.5 351.8,116.5 351.2,114.8 C350.8,113 350.6,111.3 351,110.3 Z" fill="#e99a9a" stroke="#c56d6d" stroke-width="1" fill-opacity="0.92"/>
<ellipse cx="344.6" cy="106" rx="3.8" ry="3.2" fill="#e99a9a" stroke="#c56d6d" stroke-width="1" fill-opacity="0.92"/>
<ellipse cx="273.5" cy="126" rx="2.5" ry="3" fill="#e99a9a" stroke="#c56d6d" stroke-width="1" fill-opacity="0.92"/>
<ellipse cx="337.5" cy="124.5" rx="2.5" ry="4" fill="#e99a9a" stroke="#c56d6d" stroke-width="1" fill-opacity="0.92"/>
<path d="M298.5,112 C299,106 303,102.5 308,102.8 C313,103 317.5,106 318.4,111 C319.3,118 318.5,125 316,130 C313,133.5 307.5,134 303,132.8 C299.5,130.5 298.2,125 298.5,118 Z" fill="#c58270" stroke="#9a5a4c" stroke-width="1" fill-opacity="0.9"/>
<ellipse cx="289.5" cy="118" rx="10" ry="17" fill="#8fdb97" stroke="#5fae6c" stroke-width="1" fill-opacity="0.8"/>
<ellipse cx="321.5" cy="117" rx="10" ry="17" fill="#8fdb97" stroke="#5fae6c" stroke-width="1" fill-opacity="0.8"/>
<ellipse cx="305.5" cy="104" rx="14" ry="8" fill="#8fdb97" stroke="#5fae6c" stroke-width="1" fill-opacity="0.92"/>
<ellipse cx="305.3" cy="93" rx="12" ry="5" fill="#e99a9a" stroke="#c56d6d" stroke-width="1" fill-opacity="0.92"/>
<ellipse cx="305.5" cy="139.5" rx="14.5" ry="4.3" fill="#8fdb97" stroke="#5fae6c" stroke-width="1" fill-opacity="0.92"/>
<ellipse cx="305.5" cy="148.5" rx="12" ry="3.2" fill="#e99a9a" stroke="#c56d6d" stroke-width="1" fill-opacity="0.92"/>
<ellipse cx="306" cy="157.5" rx="12" ry="3.5" fill="#8fdb97" stroke="#5fae6c" stroke-width="1" fill-opacity="0.92"/>
<ellipse cx="306.5" cy="169.5" rx="14.5" ry="6.2" fill="#e99a9a" stroke="#c56d6d" stroke-width="1" fill-opacity="0.92"/>
<ellipse cx="305.5" cy="182" rx="11.5" ry="3.3" fill="#8fdb97" stroke="#5fae6c" stroke-width="1" fill-opacity="0.92"/>
<ellipse cx="305.3" cy="199.5" rx="11.5" ry="4.5" fill="#e99a9a" stroke="#c56d6d" stroke-width="1" fill-opacity="0.92"/>
<ellipse cx="305.3" cy="212" rx="4.5" ry="1.8" fill="#8fdb97" stroke="#5fae6c" stroke-width="1" fill-opacity="0.92"/>
<ellipse cx="305.3" cy="221" rx="6.8" ry="2.6" fill="#e99a9a" stroke="#c56d6d" stroke-width="1" fill-opacity="0.92"/>
<ellipse cx="305.3" cy="241.2" rx="7.4" ry="3.7" fill="#e99a9a" stroke="#c56d6d" stroke-width="1" fill-opacity="0.92"/>
<ellipse cx="305.3" cy="272.8" rx="4" ry="1.6" fill="#e99a9a" stroke="#c56d6d" stroke-width="1" fill-opacity="0.92"/>
<ellipse cx="313.2" cy="46.8" rx="9.5" ry="8" fill="#8fdb97" stroke="#5fae6c" stroke-width="1" fill-opacity="0.92"/>
<ellipse cx="304.2" cy="58" rx="12" ry="6.5" fill="#8fdb97" stroke="#5fae6c" stroke-width="1" fill-opacity="0.92"/>
<ellipse cx="283" cy="56.9" rx="6.5" ry="11.5" fill="#8fdb97" stroke="#5fae6c" stroke-width="1" fill-opacity="0.92"/>
<ellipse cx="331" cy="61.4" rx="5" ry="11" fill="#8fdb97" stroke="#5fae6c" stroke-width="1" fill-opacity="0.92"/>
<ellipse cx="328.8" cy="88.1" rx="9" ry="7" fill="#8fdb97" stroke="#5fae6c" stroke-width="1" fill-opacity="0.92"/>
<ellipse cx="348.9" cy="84.8" rx="10" ry="8.4" fill="#8fdb97" stroke="#5fae6c" stroke-width="1" fill-opacity="0.92"/>
<ellipse cx="344.4" cy="70.3" rx="7.5" ry="5.5" fill="#8fdb97" stroke="#5fae6c" stroke-width="1" fill-opacity="0.92"/>
<ellipse cx="355.6" cy="68" rx="6" ry="8" fill="#8fdb97" stroke="#5fae6c" stroke-width="1" fill-opacity="0.92"/>
<ellipse cx="284.1" cy="43.5" rx="5.5" ry="4.5" fill="#8fdb97" stroke="#5fae6c" stroke-width="1" fill-opacity="0.92"/>
<ellipse cx="293" cy="37" rx="6" ry="4" fill="#8fdb97" stroke="#5fae6c" stroke-width="1" fill-opacity="0.92"/>
<ellipse cx="302" cy="82.6" rx="15.6" ry="10" fill="#8fdb97" stroke="#5fae6c" stroke-width="1" fill-opacity="0.92"/>
<ellipse cx="318" cy="79" rx="6" ry="8" fill="#8fdb97" stroke="#5fae6c" stroke-width="1" fill-opacity="0.92"/>
<ellipse cx="300" cy="37" rx="8" ry="6" fill="#8fdb97" stroke="#5fae6c" stroke-width="1" fill-opacity="0.92"/>
<ellipse cx="291" cy="47" rx="6" ry="7.5" fill="#8fdb97" stroke="#5fae6c" stroke-width="1" fill-opacity="0.92"/>
<ellipse cx="322" cy="47" rx="6" ry="9" fill="#8fdb97" stroke="#5fae6c" stroke-width="1" fill-opacity="0.92"/>
<ellipse cx="286" cy="35" rx="5" ry="4.5" fill="#8fdb97" stroke="#5fae6c" stroke-width="1" fill-opacity="0.92"/>
<ellipse cx="338" cy="80" rx="7" ry="6" fill="#8fdb97" stroke="#5fae6c" stroke-width="1" fill-opacity="0.92"/>
<ellipse cx="296" cy="88" rx="8" ry="5" fill="#8fdb97" stroke="#5fae6c" stroke-width="1" fill-opacity="0.92"/>
<ellipse cx="314" cy="86" rx="8" ry="6" fill="#8fdb97" stroke="#5fae6c" stroke-width="1" fill-opacity="0.92"/>
<path d="M276.5,87 C275.5,80 276,75 277.5,72 C279.5,69 282.5,66.5 286,65.3 C290,64 294,64.2 298,64.5 C302,64.8 305,65.2 308,64.6 C311.5,63.5 314,60 317.4,57.5 C320,55 322.5,54.3 324.5,55 C327.2,56 328.6,58 328.4,61 C328.4,66 327.9,71 327.3,76 C326.8,81 326.3,86 325,89 C323.8,91.3 322,92 320.8,91.2 C319.2,89.5 318.8,85 318.4,81.5 C318,78.5 317.6,76.5 316.5,75.5 C313.5,76.2 311,77 308,77 C304.5,77 302,76 299,76 C295,76 292,76.5 289.5,77.5 C287,79 285.8,82 285.3,85 C284.5,88.3 282.3,89.5 280.2,89.3 C278.3,89 277,88.3 276.5,87 Z" fill="#e99a9a" stroke="#c56d6d" stroke-width="1" fill-opacity="0.92"/>
<ellipse cx="278" cy="36.2" rx="5" ry="4.3" fill="#e99a9a" stroke="#c56d6d" stroke-width="1" fill-opacity="0.92"/>
<ellipse cx="259" cy="48" rx="4.5" ry="4.7" fill="#e99a9a" stroke="#c56d6d" stroke-width="1" fill-opacity="0.92"/>
<ellipse cx="257.3" cy="67.5" rx="4" ry="4" fill="#e99a9a" stroke="#c56d6d" stroke-width="1" fill-opacity="0.92"/>
<ellipse cx="273.5" cy="69.7" rx="4" ry="4" fill="#e99a9a" stroke="#c56d6d" stroke-width="1" fill-opacity="0.92"/>
<ellipse cx="351.7" cy="44.6" rx="4" ry="4" fill="#e99a9a" stroke="#c56d6d" stroke-width="1" fill-opacity="0.92"/>
<ellipse cx="359.5" cy="59.1" rx="4" ry="4.2" fill="#e99a9a" stroke="#c56d6d" stroke-width="1" fill-opacity="0.92"/>
<ellipse cx="337.7" cy="52.4" rx="3.2" ry="4.8" fill="#e99a9a" stroke="#c56d6d" stroke-width="1" fill-opacity="0.92"/>
<ellipse cx="297.5" cy="45.2" rx="5.5" ry="4.5" fill="#e99a9a" stroke="#c56d6d" stroke-width="1" fill-opacity="0.92"/>
<ellipse cx="346.6" cy="77" rx="4.5" ry="3.5" fill="#e99a9a" stroke="#c56d6d" stroke-width="1" fill-opacity="0.92"/>
<ellipse cx="305" cy="95.4" rx="12.3" ry="4.5" fill="#e99a9a" stroke="#c56d6d" stroke-width="1" fill-opacity="0.92"/>
<ellipse cx="278" cy="26.7" rx="5.6" ry="5.2" fill="#8fdb97" stroke="#5fae6c" stroke-width="1" fill-opacity="0.92"/>
<ellipse cx="298.1" cy="26.7" rx="5.8" ry="5.2" fill="#8fdb97" stroke="#5fae6c" stroke-width="1" fill-opacity="0.92"/>
<ellipse cx="250.1" cy="42.9" rx="4.6" ry="4.6" fill="#8fdb97" stroke="#5fae6c" stroke-width="1" fill-opacity="0.92"/>
<ellipse cx="249" cy="72" rx="5" ry="5" fill="#8fdb97" stroke="#5fae6c" stroke-width="1" fill-opacity="0.92"/>
<ellipse cx="358.4" cy="37.4" rx="4.6" ry="4.8" fill="#8fdb97" stroke="#5fae6c" stroke-width="1" fill-opacity="0.92"/>
<ellipse cx="367.9" cy="58.6" rx="4" ry="4.3" fill="#8fdb97" stroke="#5fae6c" stroke-width="1" fill-opacity="0.92"/>
<ellipse cx="332.7" cy="42.4" rx="3.2" ry="3.2" fill="#8fdb97" stroke="#5fae6c" stroke-width="1" fill-opacity="0.92"/>
<ellipse cx="269.6" cy="80.3" rx="4.6" ry="5.2" fill="#8fdb97" stroke="#5fae6c" stroke-width="1" fill-opacity="0.92"/>
<ellipse cx="264.6" cy="68" rx="3.4" ry="3.8" fill="#8fdb97" stroke="#5fae6c" stroke-width="1" fill-opacity="0.92"/>
<ellipse cx="263.5" cy="52.4" rx="4.5" ry="5" fill="#8fdb97" stroke="#5fae6c" stroke-width="1" fill-opacity="0.92"/>
<ellipse cx="262.5" cy="41.8" rx="3.6" ry="3.4" fill="#8fdb97" stroke="#5fae6c" stroke-width="1" fill-opacity="0.92"/>
<ellipse cx="345" cy="47.4" rx="3.3" ry="3.4" fill="#8fdb97" stroke="#5fae6c" stroke-width="1" fill-opacity="0.92"/>
<ellipse cx="350.5" cy="56" rx="4" ry="5.5" fill="#8fdb97" stroke="#5fae6c" stroke-width="1" fill-opacity="0.92"/>
<circle cx="123" cy="119.1" r="5.4" fill="url(#gBr)"/>
<circle cx="159.5" cy="119.1" r="8.4" fill="url(#gPb)"/>
<circle cx="159.5" cy="119.1" r="4.8" fill="url(#gBr)"/>
<circle cx="196" cy="119.1" r="5.4" fill="url(#gBr)"/>
<circle cx="232.4" cy="119.1" r="8.4" fill="url(#gPb)"/>
<circle cx="232.4" cy="119.1" r="4.8" fill="url(#gBr)"/>
<circle cx="268.9" cy="119.1" r="5.4" fill="url(#gBr)"/>
<circle cx="305.3" cy="119.1" r="8.4" fill="url(#gPb)"/>
<circle cx="305.3" cy="119.1" r="4.8" fill="url(#gBr)"/>
<circle cx="341.7" cy="119.1" r="5.4" fill="url(#gBr)"/>
<circle cx="378" cy="119.1" r="8.4" fill="url(#gPb)"/>
<circle cx="378" cy="119.1" r="4.8" fill="url(#gBr)"/>
<circle cx="414.5" cy="119.1" r="5.4" fill="url(#gBr)"/>
<circle cx="123" cy="191.8" r="5.4" fill="url(#gBr)"/>
<circle cx="159.5" cy="191.8" r="8.4" fill="url(#gPb)"/>
<circle cx="159.5" cy="191.8" r="4.8" fill="url(#gBr)"/>
<circle cx="196" cy="191.8" r="5.4" fill="url(#gBr)"/>
<circle cx="232.4" cy="191.8" r="8.4" fill="url(#gPb)"/>
<circle cx="232.4" cy="191.8" r="4.8" fill="url(#gBr)"/>
<circle cx="268.9" cy="191.8" r="5.4" fill="url(#gBr)"/>
<circle cx="305.3" cy="191.8" r="8.4" fill="url(#gPb)"/>
<circle cx="305.3" cy="191.8" r="4.8" fill="url(#gBr)"/>
<circle cx="341.7" cy="191.8" r="5.4" fill="url(#gBr)"/>
<circle cx="378" cy="191.8" r="8.4" fill="url(#gPb)"/>
<circle cx="378" cy="191.8" r="4.8" fill="url(#gBr)"/>
<circle cx="414.5" cy="191.8" r="5.4" fill="url(#gBr)"/>
<circle cx="123" cy="263.4" r="5.4" fill="url(#gBr)"/>
<circle cx="159.5" cy="263.4" r="8.4" fill="url(#gPb)"/>
<circle cx="159.5" cy="263.4" r="4.8" fill="url(#gBr)"/>
<circle cx="196" cy="263.4" r="5.4" fill="url(#gBr)"/>
<circle cx="232.4" cy="263.4" r="8.4" fill="url(#gPb)"/>
<circle cx="232.4" cy="263.4" r="4.8" fill="url(#gBr)"/>
<circle cx="268.9" cy="263.4" r="5.4" fill="url(#gBr)"/>
<circle cx="305.3" cy="263.4" r="8.4" fill="url(#gPb)"/>
<circle cx="305.3" cy="263.4" r="4.8" fill="url(#gBr)"/>
<circle cx="341.7" cy="263.4" r="5.4" fill="url(#gBr)"/>
<circle cx="378" cy="263.4" r="8.4" fill="url(#gPb)"/>
<circle cx="378" cy="263.4" r="4.8" fill="url(#gBr)"/>
<circle cx="414.5" cy="263.4" r="5.4" fill="url(#gBr)"/>
<circle cx="123" cy="336.6" r="5.4" fill="url(#gBr)"/>
<circle cx="159.5" cy="336.6" r="8.4" fill="url(#gPb)"/>
<circle cx="159.5" cy="336.6" r="4.8" fill="url(#gBr)"/>
<circle cx="196" cy="336.6" r="5.4" fill="url(#gBr)"/>
<circle cx="232.4" cy="336.6" r="8.4" fill="url(#gPb)"/>
<circle cx="232.4" cy="336.6" r="4.8" fill="url(#gBr)"/>
<circle cx="268.9" cy="336.6" r="5.4" fill="url(#gBr)"/>
<circle cx="305.3" cy="336.6" r="8.4" fill="url(#gPb)"/>
<circle cx="305.3" cy="336.6" r="4.8" fill="url(#gBr)"/>
<circle cx="341.7" cy="336.6" r="5.4" fill="url(#gBr)"/>
<circle cx="378" cy="336.6" r="8.4" fill="url(#gPb)"/>
<circle cx="378" cy="336.6" r="4.8" fill="url(#gBr)"/>
<circle cx="414.5" cy="336.6" r="5.4" fill="url(#gBr)"/>
<circle cx="159.5" cy="152.9" r="5.6" fill="url(#gBr)"/>
<circle cx="232.4" cy="152.9" r="5.6" fill="url(#gBr)"/>
<circle cx="305.3" cy="152.9" r="5.6" fill="url(#gBr)"/>
<circle cx="378" cy="152.9" r="5.6" fill="url(#gBr)"/>
<circle cx="196" cy="150" r="9.4" fill="url(#gCs)"/>
<circle cx="268.9" cy="150" r="9.4" fill="url(#gCs)"/>
<circle cx="341.7" cy="150" r="9.4" fill="url(#gCs)"/>
<circle cx="159.5" cy="227" r="5.6" fill="url(#gBr)"/>
<circle cx="232.4" cy="227" r="5.6" fill="url(#gBr)"/>
<circle cx="305.3" cy="227" r="5.6" fill="url(#gBr)"/>
<circle cx="378" cy="227" r="5.6" fill="url(#gBr)"/>
<circle cx="196" cy="227" r="9.4" fill="url(#gCs)"/>
<circle cx="268.9" cy="227" r="9.4" fill="url(#gCs)"/>
<circle cx="341.7" cy="227" r="9.4" fill="url(#gCs)"/>
<circle cx="159.5" cy="299.8" r="5.6" fill="url(#gBr)"/>
<circle cx="232.4" cy="299.8" r="5.6" fill="url(#gBr)"/>
<circle cx="305.3" cy="299.8" r="5.6" fill="url(#gBr)"/>
<circle cx="378" cy="299.8" r="5.6" fill="url(#gBr)"/>
<circle cx="196" cy="299.8" r="9.4" fill="url(#gCs)"/>
<circle cx="268.9" cy="299.8" r="9.4" fill="url(#gCs)"/>
<circle cx="341.7" cy="299.8" r="9.4" fill="url(#gCs)"/>
<text x="94.5" y="44.8" font-size="25"><tspan font-style="italic">E</tspan><tspan dy="3.6" font-size="16.5">B</tspan><tspan dy="-3.6">: 0.73 eV</tspan></text>
<text transform="translate(77.3,197.2) rotate(-90)" font-size="25.5" text-anchor="middle" fill="#000">Bond length: 2.40 &#197;</text>
<text x="270.8" y="384.8" font-size="25" text-anchor="middle">CsPbBr<tspan dy="4.2" font-size="16.5">3</tspan><tspan dy="-4.2">-TPPO</tspan></text>
</svg>
</body></html>
